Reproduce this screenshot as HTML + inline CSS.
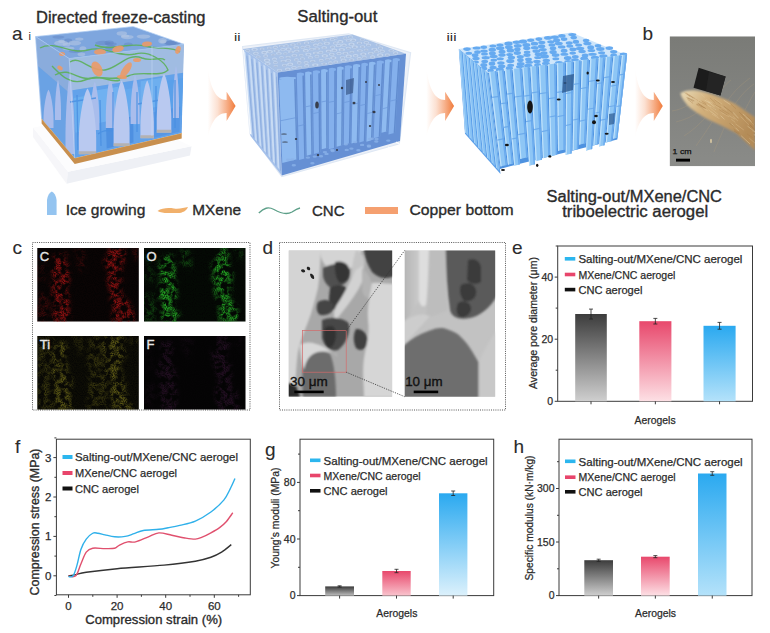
<!DOCTYPE html><html><head><meta charset="utf-8"><style>
html,body{margin:0;padding:0;background:#fff;width:770px;height:633px;overflow:hidden}
svg{display:block}
text{font-family:"Liberation Sans",sans-serif}
</style></head><body>
<svg width="770" height="633" viewBox="0 0 770 633">
<defs>
<linearGradient id="arrowG" x1="0" y1="0" x2="1" y2="0">
 <stop offset="0" stop-color="#f3854a" stop-opacity="0"/>
 <stop offset="0.35" stop-color="#f3854a" stop-opacity="0.25"/>
 <stop offset="1" stop-color="#f07a3a" stop-opacity="1"/>
</linearGradient>
<linearGradient id="barK" x1="0" y1="0" x2="0" y2="1"><stop offset="0" stop-color="#3c3c3c"/><stop offset="1" stop-color="#cfcfcf"/></linearGradient>
<linearGradient id="barR" x1="0" y1="0" x2="0" y2="1"><stop offset="0" stop-color="#e8486c"/><stop offset="1" stop-color="#fde0e5"/></linearGradient>
<linearGradient id="barB" x1="0" y1="0" x2="0" y2="1"><stop offset="0" stop-color="#2aa9f0"/><stop offset="1" stop-color="#b4e2fa"/></linearGradient>
<linearGradient id="barKg" x1="0" y1="0" x2="0" y2="1"><stop offset="0" stop-color="#3a3a3a"/><stop offset="1" stop-color="#bdbdbd"/></linearGradient>
<linearGradient id="barRg" x1="0" y1="0" x2="0" y2="1"><stop offset="0" stop-color="#e8486c"/><stop offset="1" stop-color="#f9c3cd"/></linearGradient>
<linearGradient id="barBg" x1="0" y1="0" x2="0" y2="1"><stop offset="0" stop-color="#2aa9f0"/><stop offset="1" stop-color="#dcf1fc"/></linearGradient>
<filter id="speck" x="0" y="0" width="1" height="1">
 <feTurbulence type="fractalNoise" baseFrequency="0.9" numOctaves="1" seed="3" result="n"/>
 <feColorMatrix in="n" type="matrix" values="0 0 0 0 0  0 0 0 0 0  0 0 0 0 0  0 0 0 2.2 -0.9" result="m"/>
 <feComposite in="SourceGraphic" in2="m" operator="in"/>
</filter>
<filter id="blur1"><feGaussianBlur stdDeviation="1"/></filter>
<filter id="blur2"><feGaussianBlur stdDeviation="2"/></filter>
<filter id="blur3"><feGaussianBlur stdDeviation="3"/></filter>
</defs>
<rect width="770" height="633" fill="#ffffff"/>
<text x="12" y="39.5" font-size="19" text-anchor="start" fill="#2b2b2b" stroke="#2b2b2b" stroke-width="0.1" >a</text>
<text x="28.5" y="40" font-size="11" text-anchor="start" fill="#2b2b2b" stroke="#2b2b2b"  stroke-width="0">i</text>
<text x="36" y="23" font-size="16" text-anchor="start" fill="#2b2b2b" stroke="#2b2b2b" stroke-width="0.35" textLength="169.5" lengthAdjust="spacingAndGlyphs" >Directed freeze-casting</text>
<text x="297.3" y="22.2" font-size="16.3" text-anchor="start" fill="#2b2b2b" stroke="#2b2b2b" stroke-width="0.35" textLength="80" lengthAdjust="spacingAndGlyphs" >Salting-out</text>
<text x="234" y="40.5" font-size="11" text-anchor="start" fill="#2b2b2b" stroke="#2b2b2b" stroke-width="0" textLength="6.5" lengthAdjust="spacingAndGlyphs" >ii</text>
<text x="446.5" y="40.5" font-size="11" text-anchor="start" fill="#2b2b2b" stroke="#2b2b2b" stroke-width="0" textLength="10" lengthAdjust="spacingAndGlyphs" >iii</text>
<text x="642.5" y="40" font-size="19" text-anchor="start" fill="#2b2b2b" stroke="#2b2b2b" stroke-width="0.1" >b</text>
<path d="M207.8,69.3 C210.8,88 215.8,100 226.60000000000002,100 L226.60000000000002,91.8 L235.60000000000002,106 L226.60000000000002,121 L226.60000000000002,112.9 C215.8,112.9 210.8,124 207.8,137 Z" fill="url(#arrowG)"/>
<path d="M426.3,69.3 C429.3,88 434.3,100 445.1,100 L445.1,91.8 L454.1,106 L445.1,121 L445.1,112.9 C434.3,112.9 429.3,124 426.3,137 Z" fill="url(#arrowG)"/>
<path d="M635,69.3 C638,88 643,100 653.8,100 L653.8,91.8 L662.8,106 L653.8,121 L653.8,112.9 C643,112.9 638,124 635,137 Z" fill="url(#arrowG)"/>
<path d="M33,127.4 L68,171.7 L66.6,183.8 L33,137 Z" fill="#f6f6f9"/>
<path d="M68,171.7 L191.5,146.2 L190,155.6 L66.6,183.8 Z" fill="#eef0f5"/>
<path d="M33,127.4 L120,114 L191.5,146.2 L68,171.7 Z" fill="#fcfcfd"/>
<path d="M41.6,118.5 L74.7,158 L181.7,133 L181.7,138.5 L74.7,164 L41.6,123.5 Z" fill="#c88f4e"/>
<path d="M41.6,118.5 L74.7,158 L181.7,133" fill="none" stroke="#e0ae70" stroke-width="0.8"/>
<clipPath id="cubeI"><path d="M35.6,36.6 L133.2,26.6 L184,44.3 L181.7,133 L74.7,158 L41.6,118.5 Z"/></clipPath>
<g clip-path="url(#cubeI)">
<path d="M35.6,36.6 L69.2,58.6 L74.7,158.0 L41.6,118.5 Z" fill="#7ea6dc"/>
<path d="M69.2,58.6 L184.0,44.3 L181.7,133.0 L74.7,158.0 Z" fill="#8cb0e0"/>
<path d="M69.2,58.6 L184.0,44.3 L183.3,72.7 L71.0,90.4 Z" fill="#a0bce2"/>
<path d="M35.6,36.6 L69.2,58.6 L71.2,94.4 L37.8,66.1 Z" fill="#8aacdc"/>
<path d="M35.6,36.6 L133.2,26.6 L184.0,44.3 L69.2,58.6 Z" fill="#7ea6de"/>
<ellipse cx="102.9" cy="43.0" rx="7.7" ry="2.2" fill="#5f82c0" opacity="0.45"/>
<ellipse cx="109.2" cy="42.8" rx="4.7" ry="2.3" fill="#5f82c0" opacity="0.45"/>
<ellipse cx="128.3" cy="44.6" rx="4.4" ry="2.0" fill="#5f82c0" opacity="0.45"/>
<ellipse cx="75.3" cy="51.3" rx="6.8" ry="1.6" fill="#5f82c0" opacity="0.45"/>
<ellipse cx="170.1" cy="42.9" rx="6.6" ry="2.4" fill="#5f82c0" opacity="0.45"/>
<ellipse cx="58.4" cy="37.1" rx="6.1" ry="1.6" fill="#5f82c0" opacity="0.45"/>
<ellipse cx="68.2" cy="40.6" rx="4.1" ry="2.2" fill="#5f82c0" opacity="0.45"/>
<ellipse cx="111.1" cy="47.7" rx="6.1" ry="2.5" fill="#5f82c0" opacity="0.45"/>
<ellipse cx="111.0" cy="44.1" rx="5.8" ry="1.9" fill="#5f82c0" opacity="0.45"/>
<ellipse cx="172.9" cy="43.2" rx="7.4" ry="2.6" fill="#5f82c0" opacity="0.45"/>
<ellipse cx="79.3" cy="39.1" rx="4.2" ry="1.6" fill="#b4c6e2" opacity="0.6"/>
<ellipse cx="127.3" cy="37.1" rx="6.4" ry="2.1" fill="#b4c6e2" opacity="0.6"/>
<ellipse cx="163.0" cy="41.5" rx="3.0" ry="1.8" fill="#b4c6e2" opacity="0.6"/>
<ellipse cx="143.5" cy="36.6" rx="6.9" ry="2.1" fill="#b4c6e2" opacity="0.6"/>
<ellipse cx="68.4" cy="48.4" rx="6.1" ry="1.9" fill="#b4c6e2" opacity="0.6"/>
<ellipse cx="61.2" cy="43.2" rx="6.9" ry="2.6" fill="#b4c6e2" opacity="0.6"/>
<ellipse cx="61.6" cy="41.4" rx="3.4" ry="1.6" fill="#b4c6e2" opacity="0.6"/>
<ellipse cx="121.8" cy="33.5" rx="5.2" ry="2.2" fill="#b4c6e2" opacity="0.6"/>
<ellipse cx="82.9" cy="48.8" rx="3.5" ry="2.5" fill="#b4c6e2" opacity="0.6"/>
<ellipse cx="66.5" cy="44.4" rx="3.9" ry="1.9" fill="#b4c6e2" opacity="0.6"/>
<ellipse cx="162.5" cy="40.8" rx="4.2" ry="2.8" fill="#b4c6e2" opacity="0.6"/>
<ellipse cx="74.7" cy="42.9" rx="6.4" ry="2.5" fill="#b4c6e2" opacity="0.6"/>
<ellipse cx="81.4" cy="54.3" rx="3.9" ry="1.9" fill="#b4c6e2" opacity="0.6"/>
<ellipse cx="125.2" cy="36.0" rx="4.2" ry="1.6" fill="#b4c6e2" opacity="0.6"/>
<path d="M71.0,90.4 L183.3,72.7 L181.7,133.0 L74.7,158.0 Z" fill="#62a2ea"/>
<path d="M37.8,66.1 L71.2,94.4 L74.7,158.0 L41.6,118.5 Z" fill="#6aa2e4"/>
<path d="M73.6,98.0 L93.7,94.6 L95.1,128.7 L75.5,132.7 Z" fill="#6cb0f0" opacity="0.9"/>
<path d="M93.6,90.8 L118.2,86.8 L119.0,119.0 L94.9,123.8 Z" fill="#72b2f2" opacity="0.9"/>
<path d="M120.5,90.2 L140.6,86.8 L140.9,123.9 L121.4,128.1 Z" fill="#66aaee" opacity="0.9"/>
<path d="M140.6,81.3 L166.4,77.1 L166.0,105.1 L140.8,110.0 Z" fill="#70b0f0" opacity="0.9"/>
<path d="M166.4,80.8 L183.1,78.0 L182.2,115.3 L165.9,118.7 Z" fill="#5aa0ea" opacity="0.9"/>
<path d="M105.9,121.6 L133.2,116.2 L133.5,142.4 L106.7,148.6 Z" fill="#4c8ee0" opacity="0.9"/>
<path d="M149.6,112.9 L180.2,106.8 L179.6,131.7 L149.6,138.7 Z" fill="#5596e4" opacity="0.9"/>
<path d="M90.3,130.0 L90.3,119.4 C90.3,103.5 93.0,84.7 94.8,81.8 C96.6,84.7 99.3,103.5 99.3,119.4 L99.3,130.0 Z" fill="#a9bdec"/>
<path d="M105.8,128.0 L105.8,116.9 C105.8,100.3 108.5,80.7 110.3,77.7 C112.1,80.7 114.8,100.3 114.8,116.9 L114.8,128.0 Z" fill="#a9bdec"/>
<path d="M130.6,124.0 L130.6,113.2 C130.6,97.0 133.3,77.9 135.1,75.0 C136.9,77.9 139.6,97.0 139.6,113.2 L139.6,124.0 Z" fill="#a9bdec"/>
<path d="M173.0,118.0 L173.0,106.6 C173.0,89.4 174.8,69.1 176.0,66.0 C177.2,69.1 179.0,89.4 179.0,106.6 L179.0,118.0 Z" fill="#a9bdec"/>
<path d="M65.5,154.0 L65.5,136.3 C65.5,109.8 68.2,78.5 70.0,73.7 C71.8,78.5 74.5,109.8 74.5,136.3 L74.5,154.0 Z" fill="#a9bdec"/>
<path d="M43.5,128.0 L43.5,119.6 C43.5,107.0 46.5,92.1 48.5,89.8 C50.5,92.1 53.5,107.0 53.5,119.6 L53.5,128.0 Z" fill="#a9bdec"/>
<path d="M55.0,120.0 L55.0,111.2 C55.0,98.0 56.8,82.4 58.0,80.0 C59.2,82.4 61.0,98.0 61.0,111.2 L61.0,120.0 Z" fill="#a9bdec"/>
<g stroke="#4a90e2" stroke-width="1.3" fill="none" opacity="0.85"><path d="M77,95 L78,150 M100,100 L101,146 M113,92 L113,140 M137,92 L137,132 M156,86 L156,132 M175,80 L175,128"/><path d="M98,134 C105,128 112,132 122,130 M70,102 L96,98 M138,104 L160,100"/></g>
<path d="M78.8,154.3 L78.8,139.8 C78.8,118.1 84.0,92.4 87.5,88.5 C91.0,92.4 96.2,118.1 96.2,139.8 L96.2,154.3 Z" fill="#b9c9f0"/>
<path d="M78.8,151.3 L96.2,151.3 L96.2,154.3 L78.8,154.3 Z" fill="#b0a898" opacity="0.7"/>
<path d="M113.6,146.2 L113.6,131.7 C113.6,110.0 118.4,84.3 121.6,80.4 C124.8,84.3 129.6,110.0 129.6,131.7 L129.6,146.2 Z" fill="#b9c9f0"/>
<path d="M113.6,143.2 L129.6,143.2 L129.6,146.2 L113.6,146.2 Z" fill="#b0a898" opacity="0.7"/>
<path d="M140.4,138.2 L140.4,125.5 C140.4,106.4 144.5,83.9 147.2,80.4 C149.9,83.9 153.9,106.4 153.9,125.5 L153.9,138.2 Z" fill="#b9c9f0"/>
<path d="M140.4,135.2 L153.9,135.2 L153.9,138.2 L140.4,138.2 Z" fill="#b0a898" opacity="0.7"/>
<path d="M156.7,132.8 L156.7,119.8 C156.7,100.3 161.1,77.2 164.0,73.7 C166.9,77.2 171.3,100.3 171.3,119.8 L171.3,132.8 Z" fill="#b9c9f0"/>
<path d="M156.7,129.8 L171.3,129.8 L171.3,132.8 L156.7,132.8 Z" fill="#b0a898" opacity="0.7"/>
<g stroke="#5cb05a" stroke-width="1.4" fill="none" opacity="0.9"><path d="M40,48 C55,40 70,55 88,50 C105,45 118,58 135,54 C150,50 165,62 168,70 C160,78 140,70 128,76 C112,82 100,74 85,80 C70,86 60,74 52,66"/><path d="M70,62 C80,55 90,72 105,70 C118,68 128,52 142,58 C152,62 160,56 165,60"/><path d="M55,75 C70,66 78,82 92,78 C102,74 110,84 120,80"/><path d="M95,45 C110,52 128,42 145,46 C160,50 172,46 180,52"/></g>
<ellipse cx="97" cy="69" rx="5" ry="8" transform="rotate(-25 97 69)" fill="#eb9a68" opacity="0.9"/>
<ellipse cx="126" cy="70" rx="3.5" ry="9" transform="rotate(35 126 70)" fill="#eb9a68" opacity="0.9"/>
<ellipse cx="118" cy="49" rx="6" ry="3.2" transform="rotate(-15 118 49)" fill="#eb9a68" opacity="0.9"/>
<ellipse cx="100" cy="52" rx="6" ry="3" transform="rotate(0 100 52)" fill="#eb9a68" opacity="0.9"/>
<ellipse cx="147" cy="44" rx="5" ry="2.5" transform="rotate(-5 147 44)" fill="#eb9a68" opacity="0.9"/>
<ellipse cx="62" cy="54" rx="3" ry="2" transform="rotate(0 62 54)" fill="#eb9a68" opacity="0.9"/>
<ellipse cx="122" cy="77" rx="5" ry="2" transform="rotate(5 122 77)" fill="#eb9a68" opacity="0.9"/>
<ellipse cx="178" cy="50" rx="2.5" ry="4" transform="rotate(20 178 50)" fill="#eb9a68" opacity="0.9"/>
<ellipse cx="137" cy="60" rx="4" ry="2" transform="rotate(0 137 60)" fill="#eb9a68" opacity="0.9"/>
<ellipse cx="60" cy="68" rx="3" ry="2" transform="rotate(30 60 68)" fill="#eb9a68" opacity="0.9"/>
</g>
<path d="M35.6,36.6 L133.2,26.6 L184.0,44.3 L69.2,58.6 Z" fill="none" stroke="#a8c8f0" stroke-width="0.8"/>
<path d="M69.2,58.6 L74.7,158 M152,46 L152,136" stroke="#c8dcf6" stroke-width="0.7" opacity="0.7"/>
<path d="M35.6,36.6 L41.6,118.5" stroke="#a0c0ec" stroke-width="0.8"/>
<path d="M242.6,46.5 L348.7,33.8 L410.6,52.8 L399.3,143.8 L281.8,176.6 L250,133.7 Z" fill="#edf1f8"/>
<path d="M242.6,46.5 L348.7,33.8 L410.6,52.8 L399.3,143.8 L281.8,176.6 L250,133.7 Z" fill="none" stroke="#dfe8f4" stroke-width="1.2"/>
<path d="M243.0,49.0 L352.5,34.5 L406.0,53.7 L277.7,72.4 Z" fill="#a9c2e6"/>
<path d="M243.0,49.0 L277.7,72.4 L281.8,175.4 L250.5,136.0 Z" fill="#a4c0ea"/>
<path d="M277.7,72.4 L406.0,53.7 L400.0,141.0 L281.8,175.4 Z" fill="#6690d4"/>
<ellipse cx="247.7" cy="50.5" rx="2.4" ry="1.5" fill="#c6d8f0" opacity="0.9"/>
<ellipse cx="247.7" cy="50.7" rx="1.8" ry="0.9" fill="#a6bada" opacity="0.8"/>
<ellipse cx="254.6" cy="49.4" rx="3.2" ry="1.4" fill="#c6d8f0" opacity="0.9"/>
<ellipse cx="254.6" cy="49.6" rx="1.8" ry="0.9" fill="#a6bada" opacity="0.8"/>
<ellipse cx="262.1" cy="48.9" rx="2.4" ry="1.2" fill="#c6d8f0" opacity="0.9"/>
<ellipse cx="262.1" cy="49.1" rx="1.8" ry="0.9" fill="#a6bada" opacity="0.8"/>
<ellipse cx="269.2" cy="47.9" rx="2.4" ry="1.2" fill="#c6d8f0" opacity="0.9"/>
<ellipse cx="269.2" cy="48.1" rx="1.8" ry="0.9" fill="#a6bada" opacity="0.8"/>
<ellipse cx="275.3" cy="47.2" rx="2.4" ry="1.7" fill="#c6d8f0" opacity="0.9"/>
<ellipse cx="275.3" cy="47.4" rx="1.8" ry="0.9" fill="#a6bada" opacity="0.8"/>
<ellipse cx="281.5" cy="46.0" rx="2.6" ry="1.2" fill="#c6d8f0" opacity="0.9"/>
<ellipse cx="281.5" cy="46.2" rx="1.8" ry="0.9" fill="#a6bada" opacity="0.8"/>
<ellipse cx="286.3" cy="45.8" rx="2.4" ry="1.5" fill="#c6d8f0" opacity="0.9"/>
<ellipse cx="286.3" cy="46.0" rx="1.8" ry="0.9" fill="#a6bada" opacity="0.8"/>
<ellipse cx="293.0" cy="44.7" rx="2.8" ry="1.3" fill="#c6d8f0" opacity="0.9"/>
<ellipse cx="293.0" cy="44.9" rx="1.8" ry="0.9" fill="#a6bada" opacity="0.8"/>
<ellipse cx="298.9" cy="43.8" rx="2.3" ry="1.2" fill="#c6d8f0" opacity="0.9"/>
<ellipse cx="298.9" cy="44.0" rx="1.8" ry="0.9" fill="#a6bada" opacity="0.8"/>
<ellipse cx="306.5" cy="42.9" rx="2.8" ry="1.3" fill="#c6d8f0" opacity="0.9"/>
<ellipse cx="306.5" cy="43.1" rx="1.8" ry="0.9" fill="#a6bada" opacity="0.8"/>
<ellipse cx="312.5" cy="41.4" rx="2.2" ry="1.3" fill="#c6d8f0" opacity="0.9"/>
<ellipse cx="312.5" cy="41.6" rx="1.8" ry="0.9" fill="#a6bada" opacity="0.8"/>
<ellipse cx="317.3" cy="40.6" rx="2.4" ry="1.3" fill="#c6d8f0" opacity="0.9"/>
<ellipse cx="317.3" cy="40.8" rx="1.8" ry="0.9" fill="#a6bada" opacity="0.8"/>
<ellipse cx="324.1" cy="39.8" rx="2.6" ry="1.6" fill="#c6d8f0" opacity="0.9"/>
<ellipse cx="324.1" cy="40.0" rx="1.8" ry="0.9" fill="#a6bada" opacity="0.8"/>
<ellipse cx="332.5" cy="39.2" rx="2.9" ry="1.5" fill="#c6d8f0" opacity="0.9"/>
<ellipse cx="332.5" cy="39.4" rx="1.8" ry="0.9" fill="#a6bada" opacity="0.8"/>
<ellipse cx="335.4" cy="38.1" rx="2.2" ry="1.6" fill="#c6d8f0" opacity="0.9"/>
<ellipse cx="335.4" cy="38.3" rx="1.8" ry="0.9" fill="#a6bada" opacity="0.8"/>
<ellipse cx="345.2" cy="37.9" rx="2.2" ry="1.5" fill="#c6d8f0" opacity="0.9"/>
<ellipse cx="345.2" cy="38.1" rx="1.8" ry="0.9" fill="#a6bada" opacity="0.8"/>
<ellipse cx="350.5" cy="36.9" rx="2.5" ry="1.7" fill="#c6d8f0" opacity="0.9"/>
<ellipse cx="350.5" cy="37.1" rx="1.8" ry="0.9" fill="#a6bada" opacity="0.8"/>
<ellipse cx="255.9" cy="53.3" rx="2.9" ry="1.6" fill="#c6d8f0" opacity="0.9"/>
<ellipse cx="255.9" cy="53.5" rx="1.8" ry="0.9" fill="#a6bada" opacity="0.8"/>
<ellipse cx="264.3" cy="52.4" rx="3.0" ry="1.6" fill="#c6d8f0" opacity="0.9"/>
<ellipse cx="264.3" cy="52.6" rx="1.8" ry="0.9" fill="#a6bada" opacity="0.8"/>
<ellipse cx="269.8" cy="51.6" rx="3.1" ry="1.6" fill="#c6d8f0" opacity="0.9"/>
<ellipse cx="269.8" cy="51.8" rx="1.8" ry="0.9" fill="#a6bada" opacity="0.8"/>
<ellipse cx="276.7" cy="50.8" rx="3.1" ry="1.4" fill="#c6d8f0" opacity="0.9"/>
<ellipse cx="276.7" cy="51.0" rx="1.8" ry="0.9" fill="#a6bada" opacity="0.8"/>
<ellipse cx="283.0" cy="49.5" rx="2.8" ry="1.5" fill="#c6d8f0" opacity="0.9"/>
<ellipse cx="283.0" cy="49.7" rx="1.8" ry="0.9" fill="#a6bada" opacity="0.8"/>
<ellipse cx="288.5" cy="49.0" rx="3.2" ry="1.6" fill="#c6d8f0" opacity="0.9"/>
<ellipse cx="288.5" cy="49.2" rx="1.8" ry="0.9" fill="#a6bada" opacity="0.8"/>
<ellipse cx="296.2" cy="47.7" rx="2.9" ry="1.4" fill="#c6d8f0" opacity="0.9"/>
<ellipse cx="296.2" cy="47.9" rx="1.8" ry="0.9" fill="#a6bada" opacity="0.8"/>
<ellipse cx="302.8" cy="47.3" rx="2.3" ry="1.6" fill="#c6d8f0" opacity="0.9"/>
<ellipse cx="302.8" cy="47.5" rx="1.8" ry="0.9" fill="#a6bada" opacity="0.8"/>
<ellipse cx="307.8" cy="46.4" rx="2.7" ry="1.2" fill="#c6d8f0" opacity="0.9"/>
<ellipse cx="307.8" cy="46.6" rx="1.8" ry="0.9" fill="#a6bada" opacity="0.8"/>
<ellipse cx="315.8" cy="45.1" rx="2.8" ry="1.7" fill="#c6d8f0" opacity="0.9"/>
<ellipse cx="315.8" cy="45.3" rx="1.8" ry="0.9" fill="#a6bada" opacity="0.8"/>
<ellipse cx="320.2" cy="44.0" rx="2.5" ry="1.5" fill="#c6d8f0" opacity="0.9"/>
<ellipse cx="320.2" cy="44.2" rx="1.8" ry="0.9" fill="#a6bada" opacity="0.8"/>
<ellipse cx="326.8" cy="43.3" rx="3.1" ry="1.5" fill="#c6d8f0" opacity="0.9"/>
<ellipse cx="326.8" cy="43.5" rx="1.8" ry="0.9" fill="#a6bada" opacity="0.8"/>
<ellipse cx="335.4" cy="42.9" rx="2.5" ry="1.5" fill="#c6d8f0" opacity="0.9"/>
<ellipse cx="335.4" cy="43.1" rx="1.8" ry="0.9" fill="#a6bada" opacity="0.8"/>
<ellipse cx="340.3" cy="41.7" rx="3.0" ry="1.6" fill="#c6d8f0" opacity="0.9"/>
<ellipse cx="340.3" cy="41.9" rx="1.8" ry="0.9" fill="#a6bada" opacity="0.8"/>
<ellipse cx="348.5" cy="40.6" rx="2.8" ry="1.3" fill="#c6d8f0" opacity="0.9"/>
<ellipse cx="348.5" cy="40.8" rx="1.8" ry="0.9" fill="#a6bada" opacity="0.8"/>
<ellipse cx="353.3" cy="40.1" rx="3.0" ry="1.6" fill="#c6d8f0" opacity="0.9"/>
<ellipse cx="353.3" cy="40.3" rx="1.8" ry="0.9" fill="#a6bada" opacity="0.8"/>
<ellipse cx="362.3" cy="39.4" rx="2.5" ry="1.2" fill="#c6d8f0" opacity="0.9"/>
<ellipse cx="362.3" cy="39.6" rx="1.8" ry="0.9" fill="#a6bada" opacity="0.8"/>
<ellipse cx="258.2" cy="56.7" rx="2.4" ry="1.3" fill="#c6d8f0" opacity="0.9"/>
<ellipse cx="258.2" cy="56.9" rx="1.8" ry="0.9" fill="#a6bada" opacity="0.8"/>
<ellipse cx="265.7" cy="55.9" rx="2.5" ry="1.6" fill="#c6d8f0" opacity="0.9"/>
<ellipse cx="265.7" cy="56.1" rx="1.8" ry="0.9" fill="#a6bada" opacity="0.8"/>
<ellipse cx="273.2" cy="54.8" rx="2.3" ry="1.1" fill="#c6d8f0" opacity="0.9"/>
<ellipse cx="273.2" cy="55.0" rx="1.8" ry="0.9" fill="#a6bada" opacity="0.8"/>
<ellipse cx="278.9" cy="53.6" rx="2.9" ry="1.4" fill="#c6d8f0" opacity="0.9"/>
<ellipse cx="278.9" cy="53.8" rx="1.8" ry="0.9" fill="#a6bada" opacity="0.8"/>
<ellipse cx="285.3" cy="53.6" rx="2.2" ry="1.2" fill="#c6d8f0" opacity="0.9"/>
<ellipse cx="285.3" cy="53.8" rx="1.8" ry="0.9" fill="#a6bada" opacity="0.8"/>
<ellipse cx="291.0" cy="51.9" rx="3.0" ry="1.2" fill="#c6d8f0" opacity="0.9"/>
<ellipse cx="291.0" cy="52.1" rx="1.8" ry="0.9" fill="#a6bada" opacity="0.8"/>
<ellipse cx="296.8" cy="51.1" rx="2.8" ry="1.4" fill="#c6d8f0" opacity="0.9"/>
<ellipse cx="296.8" cy="51.3" rx="1.8" ry="0.9" fill="#a6bada" opacity="0.8"/>
<ellipse cx="305.8" cy="50.6" rx="3.0" ry="1.7" fill="#c6d8f0" opacity="0.9"/>
<ellipse cx="305.8" cy="50.8" rx="1.8" ry="0.9" fill="#a6bada" opacity="0.8"/>
<ellipse cx="311.8" cy="49.2" rx="2.7" ry="1.2" fill="#c6d8f0" opacity="0.9"/>
<ellipse cx="311.8" cy="49.4" rx="1.8" ry="0.9" fill="#a6bada" opacity="0.8"/>
<ellipse cx="317.1" cy="48.8" rx="2.9" ry="1.2" fill="#c6d8f0" opacity="0.9"/>
<ellipse cx="317.1" cy="49.0" rx="1.8" ry="0.9" fill="#a6bada" opacity="0.8"/>
<ellipse cx="324.2" cy="47.7" rx="2.9" ry="1.4" fill="#c6d8f0" opacity="0.9"/>
<ellipse cx="324.2" cy="47.9" rx="1.8" ry="0.9" fill="#a6bada" opacity="0.8"/>
<ellipse cx="332.6" cy="47.0" rx="2.6" ry="1.6" fill="#c6d8f0" opacity="0.9"/>
<ellipse cx="332.6" cy="47.2" rx="1.8" ry="0.9" fill="#a6bada" opacity="0.8"/>
<ellipse cx="338.6" cy="45.4" rx="3.1" ry="1.5" fill="#c6d8f0" opacity="0.9"/>
<ellipse cx="338.6" cy="45.6" rx="1.8" ry="0.9" fill="#a6bada" opacity="0.8"/>
<ellipse cx="344.0" cy="45.1" rx="2.8" ry="1.6" fill="#c6d8f0" opacity="0.9"/>
<ellipse cx="344.0" cy="45.3" rx="1.8" ry="0.9" fill="#a6bada" opacity="0.8"/>
<ellipse cx="351.5" cy="44.2" rx="3.1" ry="1.6" fill="#c6d8f0" opacity="0.9"/>
<ellipse cx="351.5" cy="44.4" rx="1.8" ry="0.9" fill="#a6bada" opacity="0.8"/>
<ellipse cx="359.4" cy="43.0" rx="2.9" ry="1.2" fill="#c6d8f0" opacity="0.9"/>
<ellipse cx="359.4" cy="43.2" rx="1.8" ry="0.9" fill="#a6bada" opacity="0.8"/>
<ellipse cx="366.3" cy="42.5" rx="2.8" ry="1.5" fill="#c6d8f0" opacity="0.9"/>
<ellipse cx="366.3" cy="42.7" rx="1.8" ry="0.9" fill="#a6bada" opacity="0.8"/>
<ellipse cx="267.0" cy="60.3" rx="3.2" ry="1.7" fill="#c6d8f0" opacity="0.9"/>
<ellipse cx="267.0" cy="60.5" rx="1.8" ry="0.9" fill="#a6bada" opacity="0.8"/>
<ellipse cx="274.5" cy="59.1" rx="2.5" ry="1.6" fill="#c6d8f0" opacity="0.9"/>
<ellipse cx="274.5" cy="59.3" rx="1.8" ry="0.9" fill="#a6bada" opacity="0.8"/>
<ellipse cx="281.5" cy="57.6" rx="2.3" ry="1.4" fill="#c6d8f0" opacity="0.9"/>
<ellipse cx="281.5" cy="57.8" rx="1.8" ry="0.9" fill="#a6bada" opacity="0.8"/>
<ellipse cx="288.1" cy="57.1" rx="2.7" ry="1.1" fill="#c6d8f0" opacity="0.9"/>
<ellipse cx="288.1" cy="57.3" rx="1.8" ry="0.9" fill="#a6bada" opacity="0.8"/>
<ellipse cx="294.4" cy="55.4" rx="3.0" ry="1.2" fill="#c6d8f0" opacity="0.9"/>
<ellipse cx="294.4" cy="55.6" rx="1.8" ry="0.9" fill="#a6bada" opacity="0.8"/>
<ellipse cx="301.2" cy="55.3" rx="2.3" ry="1.2" fill="#c6d8f0" opacity="0.9"/>
<ellipse cx="301.2" cy="55.5" rx="1.8" ry="0.9" fill="#a6bada" opacity="0.8"/>
<ellipse cx="308.4" cy="54.3" rx="3.0" ry="1.5" fill="#c6d8f0" opacity="0.9"/>
<ellipse cx="308.4" cy="54.5" rx="1.8" ry="0.9" fill="#a6bada" opacity="0.8"/>
<ellipse cx="315.9" cy="52.9" rx="3.1" ry="1.2" fill="#c6d8f0" opacity="0.9"/>
<ellipse cx="315.9" cy="53.1" rx="1.8" ry="0.9" fill="#a6bada" opacity="0.8"/>
<ellipse cx="320.8" cy="52.3" rx="2.5" ry="1.5" fill="#c6d8f0" opacity="0.9"/>
<ellipse cx="320.8" cy="52.5" rx="1.8" ry="0.9" fill="#a6bada" opacity="0.8"/>
<ellipse cx="328.7" cy="51.2" rx="3.0" ry="1.4" fill="#c6d8f0" opacity="0.9"/>
<ellipse cx="328.7" cy="51.4" rx="1.8" ry="0.9" fill="#a6bada" opacity="0.8"/>
<ellipse cx="334.3" cy="50.2" rx="3.0" ry="1.6" fill="#c6d8f0" opacity="0.9"/>
<ellipse cx="334.3" cy="50.4" rx="1.8" ry="0.9" fill="#a6bada" opacity="0.8"/>
<ellipse cx="341.8" cy="49.7" rx="3.2" ry="1.4" fill="#c6d8f0" opacity="0.9"/>
<ellipse cx="341.8" cy="49.9" rx="1.8" ry="0.9" fill="#a6bada" opacity="0.8"/>
<ellipse cx="348.2" cy="48.1" rx="2.7" ry="1.4" fill="#c6d8f0" opacity="0.9"/>
<ellipse cx="348.2" cy="48.3" rx="1.8" ry="0.9" fill="#a6bada" opacity="0.8"/>
<ellipse cx="354.7" cy="47.0" rx="3.2" ry="1.4" fill="#c6d8f0" opacity="0.9"/>
<ellipse cx="354.7" cy="47.2" rx="1.8" ry="0.9" fill="#a6bada" opacity="0.8"/>
<ellipse cx="362.6" cy="46.8" rx="2.8" ry="1.4" fill="#c6d8f0" opacity="0.9"/>
<ellipse cx="362.6" cy="47.0" rx="1.8" ry="0.9" fill="#a6bada" opacity="0.8"/>
<ellipse cx="368.6" cy="45.1" rx="2.7" ry="1.3" fill="#c6d8f0" opacity="0.9"/>
<ellipse cx="368.6" cy="45.3" rx="1.8" ry="0.9" fill="#a6bada" opacity="0.8"/>
<ellipse cx="378.1" cy="44.8" rx="2.5" ry="1.4" fill="#c6d8f0" opacity="0.9"/>
<ellipse cx="378.1" cy="45.0" rx="1.8" ry="0.9" fill="#a6bada" opacity="0.8"/>
<ellipse cx="267.6" cy="63.6" rx="3.0" ry="1.6" fill="#c6d8f0" opacity="0.9"/>
<ellipse cx="267.6" cy="63.8" rx="1.8" ry="0.9" fill="#a6bada" opacity="0.8"/>
<ellipse cx="275.4" cy="62.4" rx="2.4" ry="1.5" fill="#c6d8f0" opacity="0.9"/>
<ellipse cx="275.4" cy="62.6" rx="1.8" ry="0.9" fill="#a6bada" opacity="0.8"/>
<ellipse cx="283.3" cy="61.1" rx="3.0" ry="1.1" fill="#c6d8f0" opacity="0.9"/>
<ellipse cx="283.3" cy="61.3" rx="1.8" ry="0.9" fill="#a6bada" opacity="0.8"/>
<ellipse cx="288.3" cy="60.5" rx="2.9" ry="1.3" fill="#c6d8f0" opacity="0.9"/>
<ellipse cx="288.3" cy="60.7" rx="1.8" ry="0.9" fill="#a6bada" opacity="0.8"/>
<ellipse cx="296.4" cy="59.8" rx="2.3" ry="1.5" fill="#c6d8f0" opacity="0.9"/>
<ellipse cx="296.4" cy="60.0" rx="1.8" ry="0.9" fill="#a6bada" opacity="0.8"/>
<ellipse cx="302.5" cy="58.8" rx="2.5" ry="1.2" fill="#c6d8f0" opacity="0.9"/>
<ellipse cx="302.5" cy="59.0" rx="1.8" ry="0.9" fill="#a6bada" opacity="0.8"/>
<ellipse cx="310.4" cy="57.6" rx="2.6" ry="1.3" fill="#c6d8f0" opacity="0.9"/>
<ellipse cx="310.4" cy="57.8" rx="1.8" ry="0.9" fill="#a6bada" opacity="0.8"/>
<ellipse cx="316.9" cy="56.3" rx="2.4" ry="1.5" fill="#c6d8f0" opacity="0.9"/>
<ellipse cx="316.9" cy="56.5" rx="1.8" ry="0.9" fill="#a6bada" opacity="0.8"/>
<ellipse cx="324.8" cy="55.7" rx="3.1" ry="1.5" fill="#c6d8f0" opacity="0.9"/>
<ellipse cx="324.8" cy="55.9" rx="1.8" ry="0.9" fill="#a6bada" opacity="0.8"/>
<ellipse cx="331.8" cy="54.3" rx="2.9" ry="1.6" fill="#c6d8f0" opacity="0.9"/>
<ellipse cx="331.8" cy="54.5" rx="1.8" ry="0.9" fill="#a6bada" opacity="0.8"/>
<ellipse cx="339.0" cy="53.4" rx="2.5" ry="1.7" fill="#c6d8f0" opacity="0.9"/>
<ellipse cx="339.0" cy="53.6" rx="1.8" ry="0.9" fill="#a6bada" opacity="0.8"/>
<ellipse cx="345.4" cy="53.3" rx="3.1" ry="1.2" fill="#c6d8f0" opacity="0.9"/>
<ellipse cx="345.4" cy="53.5" rx="1.8" ry="0.9" fill="#a6bada" opacity="0.8"/>
<ellipse cx="351.9" cy="52.1" rx="2.5" ry="1.2" fill="#c6d8f0" opacity="0.9"/>
<ellipse cx="351.9" cy="52.3" rx="1.8" ry="0.9" fill="#a6bada" opacity="0.8"/>
<ellipse cx="359.9" cy="50.6" rx="3.0" ry="1.2" fill="#c6d8f0" opacity="0.9"/>
<ellipse cx="359.9" cy="50.8" rx="1.8" ry="0.9" fill="#a6bada" opacity="0.8"/>
<ellipse cx="366.2" cy="50.0" rx="2.2" ry="1.2" fill="#c6d8f0" opacity="0.9"/>
<ellipse cx="366.2" cy="50.2" rx="1.8" ry="0.9" fill="#a6bada" opacity="0.8"/>
<ellipse cx="374.4" cy="49.1" rx="3.2" ry="1.2" fill="#c6d8f0" opacity="0.9"/>
<ellipse cx="374.4" cy="49.3" rx="1.8" ry="0.9" fill="#a6bada" opacity="0.8"/>
<ellipse cx="380.5" cy="48.0" rx="2.7" ry="1.5" fill="#c6d8f0" opacity="0.9"/>
<ellipse cx="380.5" cy="48.2" rx="1.8" ry="0.9" fill="#a6bada" opacity="0.8"/>
<ellipse cx="275.8" cy="66.1" rx="2.3" ry="1.1" fill="#c6d8f0" opacity="0.9"/>
<ellipse cx="275.8" cy="66.3" rx="1.8" ry="0.9" fill="#a6bada" opacity="0.8"/>
<ellipse cx="284.6" cy="65.3" rx="2.8" ry="1.2" fill="#c6d8f0" opacity="0.9"/>
<ellipse cx="284.6" cy="65.5" rx="1.8" ry="0.9" fill="#a6bada" opacity="0.8"/>
<ellipse cx="290.2" cy="64.2" rx="3.0" ry="1.7" fill="#c6d8f0" opacity="0.9"/>
<ellipse cx="290.2" cy="64.4" rx="1.8" ry="0.9" fill="#a6bada" opacity="0.8"/>
<ellipse cx="299.2" cy="62.8" rx="2.3" ry="1.7" fill="#c6d8f0" opacity="0.9"/>
<ellipse cx="299.2" cy="63.0" rx="1.8" ry="0.9" fill="#a6bada" opacity="0.8"/>
<ellipse cx="306.1" cy="62.6" rx="2.5" ry="1.4" fill="#c6d8f0" opacity="0.9"/>
<ellipse cx="306.1" cy="62.8" rx="1.8" ry="0.9" fill="#a6bada" opacity="0.8"/>
<ellipse cx="312.8" cy="61.2" rx="2.8" ry="1.1" fill="#c6d8f0" opacity="0.9"/>
<ellipse cx="312.8" cy="61.4" rx="1.8" ry="0.9" fill="#a6bada" opacity="0.8"/>
<ellipse cx="321.2" cy="60.5" rx="2.4" ry="1.4" fill="#c6d8f0" opacity="0.9"/>
<ellipse cx="321.2" cy="60.7" rx="1.8" ry="0.9" fill="#a6bada" opacity="0.8"/>
<ellipse cx="327.6" cy="59.1" rx="2.4" ry="1.2" fill="#c6d8f0" opacity="0.9"/>
<ellipse cx="327.6" cy="59.3" rx="1.8" ry="0.9" fill="#a6bada" opacity="0.8"/>
<ellipse cx="333.3" cy="57.8" rx="3.1" ry="1.6" fill="#c6d8f0" opacity="0.9"/>
<ellipse cx="333.3" cy="58.0" rx="1.8" ry="0.9" fill="#a6bada" opacity="0.8"/>
<ellipse cx="342.6" cy="57.5" rx="2.8" ry="1.3" fill="#c6d8f0" opacity="0.9"/>
<ellipse cx="342.6" cy="57.7" rx="1.8" ry="0.9" fill="#a6bada" opacity="0.8"/>
<ellipse cx="348.7" cy="56.2" rx="3.2" ry="1.6" fill="#c6d8f0" opacity="0.9"/>
<ellipse cx="348.7" cy="56.4" rx="1.8" ry="0.9" fill="#a6bada" opacity="0.8"/>
<ellipse cx="355.6" cy="55.6" rx="2.9" ry="1.6" fill="#c6d8f0" opacity="0.9"/>
<ellipse cx="355.6" cy="55.8" rx="1.8" ry="0.9" fill="#a6bada" opacity="0.8"/>
<ellipse cx="363.3" cy="54.0" rx="3.1" ry="1.6" fill="#c6d8f0" opacity="0.9"/>
<ellipse cx="363.3" cy="54.2" rx="1.8" ry="0.9" fill="#a6bada" opacity="0.8"/>
<ellipse cx="370.8" cy="53.3" rx="3.0" ry="1.3" fill="#c6d8f0" opacity="0.9"/>
<ellipse cx="370.8" cy="53.5" rx="1.8" ry="0.9" fill="#a6bada" opacity="0.8"/>
<ellipse cx="376.5" cy="51.7" rx="2.5" ry="1.4" fill="#c6d8f0" opacity="0.9"/>
<ellipse cx="376.5" cy="51.9" rx="1.8" ry="0.9" fill="#a6bada" opacity="0.8"/>
<ellipse cx="382.2" cy="51.2" rx="2.8" ry="1.5" fill="#c6d8f0" opacity="0.9"/>
<ellipse cx="382.2" cy="51.4" rx="1.8" ry="0.9" fill="#a6bada" opacity="0.8"/>
<ellipse cx="391.2" cy="50.6" rx="2.9" ry="1.3" fill="#c6d8f0" opacity="0.9"/>
<ellipse cx="391.2" cy="50.8" rx="1.8" ry="0.9" fill="#a6bada" opacity="0.8"/>
<ellipse cx="279.4" cy="70.2" rx="2.7" ry="1.3" fill="#c6d8f0" opacity="0.9"/>
<ellipse cx="279.4" cy="70.4" rx="1.8" ry="0.9" fill="#a6bada" opacity="0.8"/>
<ellipse cx="287.8" cy="69.1" rx="2.9" ry="1.6" fill="#c6d8f0" opacity="0.9"/>
<ellipse cx="287.8" cy="69.3" rx="1.8" ry="0.9" fill="#a6bada" opacity="0.8"/>
<ellipse cx="294.0" cy="67.4" rx="2.8" ry="1.5" fill="#c6d8f0" opacity="0.9"/>
<ellipse cx="294.0" cy="67.6" rx="1.8" ry="0.9" fill="#a6bada" opacity="0.8"/>
<ellipse cx="299.7" cy="67.1" rx="2.3" ry="1.2" fill="#c6d8f0" opacity="0.9"/>
<ellipse cx="299.7" cy="67.3" rx="1.8" ry="0.9" fill="#a6bada" opacity="0.8"/>
<ellipse cx="306.8" cy="65.7" rx="2.5" ry="1.6" fill="#c6d8f0" opacity="0.9"/>
<ellipse cx="306.8" cy="65.9" rx="1.8" ry="0.9" fill="#a6bada" opacity="0.8"/>
<ellipse cx="315.3" cy="64.9" rx="3.2" ry="1.4" fill="#c6d8f0" opacity="0.9"/>
<ellipse cx="315.3" cy="65.1" rx="1.8" ry="0.9" fill="#a6bada" opacity="0.8"/>
<ellipse cx="324.1" cy="63.8" rx="3.0" ry="1.1" fill="#c6d8f0" opacity="0.9"/>
<ellipse cx="324.1" cy="64.0" rx="1.8" ry="0.9" fill="#a6bada" opacity="0.8"/>
<ellipse cx="330.4" cy="63.0" rx="2.2" ry="1.7" fill="#c6d8f0" opacity="0.9"/>
<ellipse cx="330.4" cy="63.2" rx="1.8" ry="0.9" fill="#a6bada" opacity="0.8"/>
<ellipse cx="335.8" cy="61.9" rx="2.4" ry="1.4" fill="#c6d8f0" opacity="0.9"/>
<ellipse cx="335.8" cy="62.1" rx="1.8" ry="0.9" fill="#a6bada" opacity="0.8"/>
<ellipse cx="343.6" cy="60.3" rx="3.1" ry="1.4" fill="#c6d8f0" opacity="0.9"/>
<ellipse cx="343.6" cy="60.5" rx="1.8" ry="0.9" fill="#a6bada" opacity="0.8"/>
<ellipse cx="351.7" cy="59.8" rx="2.6" ry="1.3" fill="#c6d8f0" opacity="0.9"/>
<ellipse cx="351.7" cy="60.0" rx="1.8" ry="0.9" fill="#a6bada" opacity="0.8"/>
<ellipse cx="359.2" cy="58.6" rx="2.5" ry="1.5" fill="#c6d8f0" opacity="0.9"/>
<ellipse cx="359.2" cy="58.8" rx="1.8" ry="0.9" fill="#a6bada" opacity="0.8"/>
<ellipse cx="364.3" cy="57.2" rx="2.4" ry="1.1" fill="#c6d8f0" opacity="0.9"/>
<ellipse cx="364.3" cy="57.4" rx="1.8" ry="0.9" fill="#a6bada" opacity="0.8"/>
<ellipse cx="372.7" cy="56.9" rx="2.6" ry="1.6" fill="#c6d8f0" opacity="0.9"/>
<ellipse cx="372.7" cy="57.1" rx="1.8" ry="0.9" fill="#a6bada" opacity="0.8"/>
<ellipse cx="380.2" cy="55.0" rx="3.2" ry="1.7" fill="#c6d8f0" opacity="0.9"/>
<ellipse cx="380.2" cy="55.2" rx="1.8" ry="0.9" fill="#a6bada" opacity="0.8"/>
<ellipse cx="387.3" cy="55.0" rx="2.6" ry="1.4" fill="#c6d8f0" opacity="0.9"/>
<ellipse cx="387.3" cy="55.2" rx="1.8" ry="0.9" fill="#a6bada" opacity="0.8"/>
<ellipse cx="395.7" cy="53.0" rx="2.7" ry="1.7" fill="#c6d8f0" opacity="0.9"/>
<ellipse cx="395.7" cy="53.2" rx="1.8" ry="0.9" fill="#a6bada" opacity="0.8"/>
<path d="M279.0,79.5 L295.6,76.9 L297.8,158.9 L282.3,163.1 Z" fill="#8ebaf0"/>
<ellipse cx="287.3" cy="78.2" rx="8.3" ry="1.5" fill="#8ebaf0"/>
<path d="M294.1,79.1 L295.6,78.9 L297.8,158.9 L296.4,159.3 Z" fill="#5580c6" opacity="0.75"/>
<path d="M280.6,120.3 L296.7,116.9 L296.7,117.9 L280.6,121.3 Z" fill="#6a96d8" opacity="0.7"/>
<path d="M296.8,74.7 L303.8,73.6 L305.6,158.3 L299.0,160.1 Z" fill="#84b0ec"/>
<ellipse cx="300.3" cy="74.1" rx="3.5" ry="1.5" fill="#84b0ec"/>
<path d="M302.4,75.8 L303.9,75.6 L305.6,158.3 L304.2,158.7 Z" fill="#5580c6" opacity="0.75"/>
<path d="M298.1,125.4 L304.9,123.9 L304.9,124.9 L298.2,126.4 Z" fill="#6a96d8" opacity="0.7"/>
<path d="M305.1,73.4 L311.5,72.4 L312.7,154.1 L306.7,155.7 Z" fill="#8ebaf0"/>
<ellipse cx="308.3" cy="72.9" rx="3.2" ry="1.5" fill="#8ebaf0"/>
<path d="M310.0,74.6 L311.5,74.4 L312.7,154.1 L311.3,154.5 Z" fill="#5580c6" opacity="0.75"/>
<path d="M305.8,106.2 L312.0,104.9 L312.0,105.9 L305.8,107.2 Z" fill="#6a96d8" opacity="0.7"/>
<path d="M312.8,72.2 L319.8,71.2 L320.5,152.1 L313.9,153.9 Z" fill="#84b0ec"/>
<ellipse cx="316.3" cy="71.7" rx="3.5" ry="1.5" fill="#84b0ec"/>
<path d="M318.3,73.4 L319.8,73.1 L320.5,152.1 L319.0,152.5 Z" fill="#5580c6" opacity="0.75"/>
<path d="M313.3,113.1 L320.1,111.7 L320.2,112.6 L313.4,114.1 Z" fill="#6a96d8" opacity="0.7"/>
<path d="M321.1,71.0 L327.5,70.0 L327.6,147.7 L321.7,149.3 Z" fill="#8ebaf0"/>
<ellipse cx="324.3" cy="70.5" rx="3.2" ry="1.5" fill="#8ebaf0"/>
<path d="M326.0,72.2 L327.5,71.9 L327.6,147.7 L326.2,148.1 Z" fill="#5580c6" opacity="0.75"/>
<path d="M321.3,101.5 L327.5,100.3 L327.5,101.3 L321.3,102.5 Z" fill="#6a96d8" opacity="0.7"/>
<path d="M328.8,69.8 L335.8,68.7 L335.4,147.5 L328.8,149.3 Z" fill="#84b0ec"/>
<ellipse cx="332.3" cy="69.3" rx="3.5" ry="1.5" fill="#84b0ec"/>
<path d="M334.3,70.9 L335.8,70.6 L335.4,147.5 L334.0,147.9 Z" fill="#5580c6" opacity="0.75"/>
<path d="M328.8,101.8 L335.6,100.5 L335.6,101.4 L328.8,102.8 Z" fill="#6a96d8" opacity="0.7"/>
<path d="M337.1,68.5 L343.5,67.6 L342.6,145.1 L336.6,146.7 Z" fill="#8ebaf0"/>
<ellipse cx="340.3" cy="68.0" rx="3.2" ry="1.5" fill="#8ebaf0"/>
<path d="M341.9,69.7 L343.4,69.5 L342.6,145.1 L341.1,145.5 Z" fill="#5580c6" opacity="0.75"/>
<path d="M336.8,113.2 L343.0,111.9 L342.9,112.8 L336.8,114.2 Z" fill="#6a96d8" opacity="0.7"/>
<path d="M344.7,67.4 L351.8,66.3 L350.4,143.1 L343.8,144.8 Z" fill="#84b0ec"/>
<ellipse cx="348.3" cy="66.8" rx="3.5" ry="1.5" fill="#84b0ec"/>
<path d="M350.2,68.4 L351.7,68.2 L350.4,143.1 L348.9,143.4 Z" fill="#5580c6" opacity="0.75"/>
<path d="M344.3,102.0 L351.1,100.6 L351.1,101.6 L344.3,103.0 Z" fill="#6a96d8" opacity="0.7"/>
<path d="M353.0,66.1 L360.1,65.0 L358.1,141.7 L351.5,143.4 Z" fill="#8ebaf0"/>
<ellipse cx="356.6" cy="65.6" rx="3.5" ry="1.5" fill="#8ebaf0"/>
<path d="M358.5,67.1 L360.0,66.9 L358.1,141.7 L356.7,142.1 Z" fill="#5580c6" opacity="0.75"/>
<path d="M352.3,104.1 L359.1,102.6 L359.1,103.6 L352.3,105.0 Z" fill="#6a96d8" opacity="0.7"/>
<path d="M361.4,64.8 L367.7,63.9 L365.2,140.8 L359.3,142.4 Z" fill="#84b0ec"/>
<ellipse cx="364.6" cy="64.3" rx="3.2" ry="1.5" fill="#84b0ec"/>
<path d="M366.2,65.9 L367.7,65.7 L365.2,140.8 L363.8,141.2 Z" fill="#5580c6" opacity="0.75"/>
<path d="M360.3,105.0 L366.4,103.6 L366.4,104.6 L360.3,105.9 Z" fill="#6a96d8" opacity="0.7"/>
<path d="M369.0,63.7 L375.4,62.7 L372.3,140.0 L366.4,141.7 Z" fill="#8ebaf0"/>
<ellipse cx="372.2" cy="63.2" rx="3.2" ry="1.5" fill="#8ebaf0"/>
<path d="M373.8,64.7 L375.3,64.5 L372.3,140.0 L370.9,140.4 Z" fill="#5580c6" opacity="0.75"/>
<path d="M367.4,113.1 L373.5,111.7 L373.4,112.6 L367.3,114.0 Z" fill="#6a96d8" opacity="0.7"/>
<path d="M376.7,62.5 L383.7,61.4 L380.2,136.5 L373.6,138.3 Z" fill="#84b0ec"/>
<ellipse cx="380.2" cy="62.0" rx="3.5" ry="1.5" fill="#84b0ec"/>
<path d="M382.1,63.5 L383.6,63.2 L380.2,136.5 L378.7,136.9 Z" fill="#5580c6" opacity="0.75"/>
<path d="M375.4,95.2 L382.2,93.8 L382.1,94.7 L375.3,96.1 Z" fill="#6a96d8" opacity="0.7"/>
<path d="M385.0,61.2 L391.4,60.2 L387.5,131.2 L381.5,132.8 Z" fill="#8ebaf0"/>
<ellipse cx="388.2" cy="60.7" rx="3.2" ry="1.5" fill="#8ebaf0"/>
<path d="M389.8,62.3 L391.3,62.0 L387.5,131.2 L386.1,131.6 Z" fill="#5580c6" opacity="0.75"/>
<path d="M382.7,108.2 L388.8,106.8 L388.8,107.7 L382.7,109.1 Z" fill="#6a96d8" opacity="0.7"/>
<path d="M392.7,60.1 L399.7,59.0 L395.1,132.7 L388.5,134.5 Z" fill="#84b0ec"/>
<ellipse cx="396.2" cy="59.5" rx="3.5" ry="1.5" fill="#84b0ec"/>
<path d="M398.1,61.0 L399.6,60.7 L395.1,132.7 L393.6,133.1 Z" fill="#5580c6" opacity="0.75"/>
<path d="M390.4,100.6 L397.2,99.1 L397.1,100.0 L390.3,101.5 Z" fill="#6a96d8" opacity="0.7"/>
<ellipse cx="324.9" cy="152.1" rx="2.2" ry="1.2" fill="#8ab2e8" opacity="0.8"/>
<ellipse cx="362.1" cy="144.9" rx="2.2" ry="1.2" fill="#8ab2e8" opacity="0.8"/>
<ellipse cx="351.4" cy="148.6" rx="2.2" ry="1.2" fill="#8ab2e8" opacity="0.8"/>
<ellipse cx="370.1" cy="139.0" rx="2.2" ry="1.2" fill="#8ab2e8" opacity="0.8"/>
<ellipse cx="312.4" cy="163.3" rx="2.2" ry="1.2" fill="#8ab2e8" opacity="0.8"/>
<ellipse cx="388.3" cy="140.6" rx="2.2" ry="1.2" fill="#8ab2e8" opacity="0.8"/>
<ellipse cx="288.2" cy="159.8" rx="2.2" ry="1.2" fill="#8ab2e8" opacity="0.8"/>
<ellipse cx="314.8" cy="156.6" rx="2.2" ry="1.2" fill="#8ab2e8" opacity="0.8"/>
<ellipse cx="355.2" cy="142.1" rx="2.2" ry="1.2" fill="#8ab2e8" opacity="0.8"/>
<ellipse cx="345.8" cy="144.3" rx="2.2" ry="1.2" fill="#8ab2e8" opacity="0.8"/>
<ellipse cx="293.8" cy="165.2" rx="2.2" ry="1.2" fill="#8ab2e8" opacity="0.8"/>
<ellipse cx="346.7" cy="149.9" rx="2.2" ry="1.2" fill="#8ab2e8" opacity="0.8"/>
<ellipse cx="326.5" cy="153.9" rx="2.2" ry="1.2" fill="#8ab2e8" opacity="0.8"/>
<ellipse cx="307.9" cy="157.6" rx="2.2" ry="1.2" fill="#8ab2e8" opacity="0.8"/>
<ellipse cx="368.8" cy="145.7" rx="2.2" ry="1.2" fill="#8ab2e8" opacity="0.8"/>
<ellipse cx="292.2" cy="159.4" rx="2.2" ry="1.2" fill="#8ab2e8" opacity="0.8"/>
<ellipse cx="376.3" cy="141.5" rx="2.2" ry="1.2" fill="#8ab2e8" opacity="0.8"/>
<ellipse cx="371.8" cy="138.7" rx="2.2" ry="1.2" fill="#8ab2e8" opacity="0.8"/>
<ellipse cx="332.3" cy="150.0" rx="2.2" ry="1.2" fill="#8ab2e8" opacity="0.8"/>
<ellipse cx="376.5" cy="139.0" rx="2.2" ry="1.2" fill="#8ab2e8" opacity="0.8"/>
<ellipse cx="358.4" cy="150.2" rx="2.2" ry="1.2" fill="#8ab2e8" opacity="0.8"/>
<ellipse cx="321.0" cy="156.2" rx="2.2" ry="1.2" fill="#8ab2e8" opacity="0.8"/>
<ellipse cx="369.0" cy="146.5" rx="2.2" ry="1.2" fill="#8ab2e8" opacity="0.8"/>
<ellipse cx="332.7" cy="151.0" rx="2.2" ry="1.2" fill="#8ab2e8" opacity="0.8"/>
<path d="M243.5,51.0 L245.6,52.4 L252.5,136.1 L250.6,133.8 Z" fill="#d2e2f6" opacity="0.8"/>
<path d="M246.5,55.5 L247.3,56.1 L253.9,137.9 L253.1,136.9 Z" fill="#7fa3d8" opacity="0.7"/>
<path d="M248.4,54.4 L250.5,55.8 L257.0,141.7 L255.1,139.3 Z" fill="#d2e2f6" opacity="0.8"/>
<path d="M251.4,59.0 L252.3,59.6 L258.4,143.4 L257.6,142.5 Z" fill="#7fa3d8" opacity="0.7"/>
<path d="M253.4,57.8 L255.5,59.2 L261.4,147.2 L259.6,144.9 Z" fill="#d2e2f6" opacity="0.8"/>
<path d="M256.3,62.4 L257.2,63.0 L262.9,149.0 L262.1,148.0 Z" fill="#7fa3d8" opacity="0.7"/>
<path d="M258.3,61.1 L260.4,62.6 L265.9,152.8 L264.0,150.5 Z" fill="#d2e2f6" opacity="0.8"/>
<path d="M261.3,65.9 L262.1,66.5 L267.3,154.5 L266.6,153.6 Z" fill="#7fa3d8" opacity="0.7"/>
<path d="M263.3,64.5 L265.4,66.0 L270.4,158.4 L268.5,156.0 Z" fill="#d2e2f6" opacity="0.8"/>
<path d="M266.2,69.4 L267.1,70.0 L271.8,160.1 L271.0,159.1 Z" fill="#7fa3d8" opacity="0.7"/>
<path d="M268.2,67.9 L270.3,69.3 L274.9,163.9 L273.0,161.6 Z" fill="#d2e2f6" opacity="0.8"/>
<path d="M271.1,72.8 L272.0,73.4 L276.3,165.7 L275.5,164.7 Z" fill="#7fa3d8" opacity="0.7"/>
<path d="M273.2,71.3 L275.3,72.7 L279.4,169.5 L277.5,167.1 Z" fill="#d2e2f6" opacity="0.8"/>
<path d="M276.1,76.3 L276.9,76.9 L280.8,171.2 L280.0,170.3 Z" fill="#7fa3d8" opacity="0.7"/>
<ellipse cx="317" cy="105" rx="1.8" ry="3.5" fill="#2a2a30" opacity="0.85"/>
<ellipse cx="342" cy="88" rx="1.2" ry="1.2" fill="#2a2a30" opacity="0.85"/>
<ellipse cx="366" cy="82" rx="1" ry="1" fill="#2a2a30" opacity="0.85"/>
<ellipse cx="379" cy="85" rx="1" ry="1" fill="#2a2a30" opacity="0.85"/>
<ellipse cx="354" cy="103" rx="1.5" ry="1.2" fill="#2a2a30" opacity="0.85"/>
<ellipse cx="374" cy="112" rx="1.6" ry="1.2" fill="#2a2a30" opacity="0.85"/>
<ellipse cx="284" cy="134" rx="3" ry="0.6" fill="#2a2a30" opacity="0.85"/>
<ellipse cx="285" cy="142" rx="3" ry="0.6" fill="#2a2a30" opacity="0.85"/>
<ellipse cx="296" cy="139" rx="1.2" ry="1" fill="#2a2a30" opacity="0.85"/>
<ellipse cx="318" cy="155" rx="1.2" ry="1" fill="#2a2a30" opacity="0.85"/>
<ellipse cx="370" cy="126" rx="1.2" ry="1" fill="#2a2a30" opacity="0.85"/>
<ellipse cx="337" cy="150" rx="1" ry="1" fill="#2a2a30" opacity="0.85"/>
<path d="M346,80 L354,78 L353,93 L346,95 Z" fill="#3a5a8a" opacity="0.7"/>
<path d="M243.5,50 L250.5,134 M396,142 L406,148 M388,147 L398,151" stroke="#ffffff" stroke-width="1.3" opacity="0.85"/>
<path d="M458.8,49.0 L571.3,32.6 L627.0,55.3 L488.0,73.0 Z" fill="#cfe6fb"/>
<path d="M458.8,49.0 L488.0,73.0 L500.5,174.0 L465.0,133.7 Z" fill="#5b9ee8"/>
<path d="M488.0,73.0 L627.0,55.3 L617.3,139.4 L499.9,168.9 Z" fill="#4e92e0"/>
<ellipse cx="467.0" cy="49.1" rx="3.8" ry="1.8" fill="#66aaf0"/>
<ellipse cx="476.6" cy="48.0" rx="4.0" ry="1.5" fill="#66aaf0"/>
<ellipse cx="483.8" cy="47.3" rx="3.3" ry="1.7" fill="#66aaf0"/>
<ellipse cx="492.9" cy="46.0" rx="3.5" ry="1.6" fill="#66aaf0"/>
<ellipse cx="500.0" cy="45.1" rx="3.6" ry="1.6" fill="#66aaf0"/>
<ellipse cx="508.5" cy="43.7" rx="4.1" ry="2.1" fill="#66aaf0"/>
<ellipse cx="516.6" cy="42.3" rx="4.0" ry="1.7" fill="#66aaf0"/>
<ellipse cx="523.0" cy="41.4" rx="4.1" ry="2.0" fill="#66aaf0"/>
<ellipse cx="530.7" cy="40.2" rx="3.6" ry="1.7" fill="#66aaf0"/>
<ellipse cx="538.9" cy="39.1" rx="3.4" ry="1.8" fill="#66aaf0"/>
<ellipse cx="548.0" cy="37.9" rx="4.0" ry="1.8" fill="#66aaf0"/>
<ellipse cx="554.8" cy="37.2" rx="4.1" ry="1.7" fill="#66aaf0"/>
<ellipse cx="561.9" cy="35.9" rx="3.7" ry="1.8" fill="#66aaf0"/>
<ellipse cx="572.3" cy="34.6" rx="4.0" ry="1.5" fill="#66aaf0"/>
<ellipse cx="468.8" cy="53.2" rx="3.3" ry="1.5" fill="#66aaf0"/>
<ellipse cx="477.5" cy="52.1" rx="3.3" ry="1.9" fill="#66aaf0"/>
<ellipse cx="484.0" cy="51.0" rx="3.8" ry="1.6" fill="#66aaf0"/>
<ellipse cx="492.3" cy="49.8" rx="3.7" ry="2.0" fill="#66aaf0"/>
<ellipse cx="500.2" cy="48.2" rx="4.2" ry="1.9" fill="#66aaf0"/>
<ellipse cx="508.9" cy="47.2" rx="3.9" ry="1.9" fill="#66aaf0"/>
<ellipse cx="517.8" cy="45.8" rx="4.0" ry="1.9" fill="#66aaf0"/>
<ellipse cx="526.4" cy="45.0" rx="4.0" ry="2.0" fill="#66aaf0"/>
<ellipse cx="534.5" cy="43.7" rx="3.7" ry="1.9" fill="#66aaf0"/>
<ellipse cx="541.8" cy="42.4" rx="3.6" ry="1.6" fill="#66aaf0"/>
<ellipse cx="550.8" cy="41.8" rx="3.6" ry="1.6" fill="#66aaf0"/>
<ellipse cx="556.6" cy="40.3" rx="3.5" ry="2.1" fill="#66aaf0"/>
<ellipse cx="564.1" cy="39.1" rx="3.3" ry="1.9" fill="#66aaf0"/>
<ellipse cx="573.7" cy="37.6" rx="3.3" ry="1.8" fill="#66aaf0"/>
<ellipse cx="475.1" cy="55.2" rx="3.4" ry="1.9" fill="#66aaf0"/>
<ellipse cx="484.5" cy="53.9" rx="3.4" ry="1.7" fill="#66aaf0"/>
<ellipse cx="492.4" cy="53.4" rx="3.5" ry="1.8" fill="#66aaf0"/>
<ellipse cx="502.0" cy="51.7" rx="3.5" ry="2.0" fill="#66aaf0"/>
<ellipse cx="510.4" cy="50.4" rx="3.7" ry="2.1" fill="#66aaf0"/>
<ellipse cx="517.4" cy="49.3" rx="3.2" ry="2.1" fill="#66aaf0"/>
<ellipse cx="526.8" cy="48.2" rx="3.7" ry="1.8" fill="#66aaf0"/>
<ellipse cx="534.8" cy="47.7" rx="3.9" ry="1.6" fill="#66aaf0"/>
<ellipse cx="541.6" cy="46.2" rx="3.6" ry="2.0" fill="#66aaf0"/>
<ellipse cx="551.9" cy="44.9" rx="3.4" ry="1.6" fill="#66aaf0"/>
<ellipse cx="558.7" cy="43.6" rx="4.1" ry="1.8" fill="#66aaf0"/>
<ellipse cx="569.2" cy="43.0" rx="3.5" ry="1.8" fill="#66aaf0"/>
<ellipse cx="575.9" cy="41.8" rx="3.2" ry="2.0" fill="#66aaf0"/>
<ellipse cx="586.1" cy="40.4" rx="3.3" ry="1.7" fill="#66aaf0"/>
<ellipse cx="476.0" cy="58.5" rx="3.7" ry="1.8" fill="#66aaf0"/>
<ellipse cx="485.7" cy="57.7" rx="4.1" ry="1.7" fill="#66aaf0"/>
<ellipse cx="493.6" cy="56.4" rx="4.1" ry="1.6" fill="#66aaf0"/>
<ellipse cx="502.0" cy="55.0" rx="3.7" ry="1.8" fill="#66aaf0"/>
<ellipse cx="509.7" cy="54.6" rx="3.5" ry="1.7" fill="#66aaf0"/>
<ellipse cx="517.3" cy="53.0" rx="3.7" ry="1.9" fill="#66aaf0"/>
<ellipse cx="527.1" cy="52.1" rx="3.3" ry="1.7" fill="#66aaf0"/>
<ellipse cx="536.4" cy="51.1" rx="4.0" ry="1.9" fill="#66aaf0"/>
<ellipse cx="542.9" cy="49.6" rx="3.9" ry="1.6" fill="#66aaf0"/>
<ellipse cx="553.0" cy="48.3" rx="3.2" ry="2.1" fill="#66aaf0"/>
<ellipse cx="561.7" cy="46.9" rx="3.8" ry="1.7" fill="#66aaf0"/>
<ellipse cx="569.8" cy="46.1" rx="3.5" ry="1.7" fill="#66aaf0"/>
<ellipse cx="578.6" cy="45.1" rx="3.5" ry="1.6" fill="#66aaf0"/>
<ellipse cx="587.4" cy="43.5" rx="4.1" ry="1.8" fill="#66aaf0"/>
<ellipse cx="475.6" cy="62.0" rx="3.3" ry="1.6" fill="#66aaf0"/>
<ellipse cx="484.7" cy="61.4" rx="3.4" ry="1.7" fill="#66aaf0"/>
<ellipse cx="493.8" cy="60.1" rx="3.3" ry="1.6" fill="#66aaf0"/>
<ellipse cx="500.2" cy="58.7" rx="3.6" ry="1.5" fill="#66aaf0"/>
<ellipse cx="511.4" cy="57.6" rx="3.7" ry="1.9" fill="#66aaf0"/>
<ellipse cx="520.3" cy="56.8" rx="3.6" ry="1.7" fill="#66aaf0"/>
<ellipse cx="527.0" cy="55.0" rx="3.6" ry="1.9" fill="#66aaf0"/>
<ellipse cx="538.5" cy="54.3" rx="3.9" ry="1.9" fill="#66aaf0"/>
<ellipse cx="544.0" cy="53.1" rx="3.5" ry="1.9" fill="#66aaf0"/>
<ellipse cx="553.1" cy="51.9" rx="3.7" ry="2.0" fill="#66aaf0"/>
<ellipse cx="564.1" cy="50.7" rx="3.4" ry="2.0" fill="#66aaf0"/>
<ellipse cx="573.0" cy="49.4" rx="3.6" ry="1.8" fill="#66aaf0"/>
<ellipse cx="580.1" cy="48.6" rx="4.2" ry="1.8" fill="#66aaf0"/>
<ellipse cx="590.7" cy="47.4" rx="3.4" ry="2.1" fill="#66aaf0"/>
<ellipse cx="598.0" cy="45.7" rx="3.3" ry="1.6" fill="#66aaf0"/>
<ellipse cx="483.8" cy="65.1" rx="3.5" ry="2.1" fill="#66aaf0"/>
<ellipse cx="492.0" cy="63.7" rx="3.3" ry="2.1" fill="#66aaf0"/>
<ellipse cx="500.9" cy="63.0" rx="3.7" ry="1.8" fill="#66aaf0"/>
<ellipse cx="510.3" cy="61.1" rx="4.1" ry="2.1" fill="#66aaf0"/>
<ellipse cx="520.4" cy="60.1" rx="3.3" ry="2.0" fill="#66aaf0"/>
<ellipse cx="528.5" cy="59.4" rx="3.4" ry="1.8" fill="#66aaf0"/>
<ellipse cx="537.9" cy="57.4" rx="3.7" ry="1.5" fill="#66aaf0"/>
<ellipse cx="544.7" cy="56.4" rx="4.2" ry="2.1" fill="#66aaf0"/>
<ellipse cx="555.6" cy="55.1" rx="3.9" ry="1.9" fill="#66aaf0"/>
<ellipse cx="564.4" cy="54.3" rx="4.0" ry="1.5" fill="#66aaf0"/>
<ellipse cx="572.7" cy="53.1" rx="3.3" ry="1.7" fill="#66aaf0"/>
<ellipse cx="582.1" cy="51.5" rx="3.7" ry="1.7" fill="#66aaf0"/>
<ellipse cx="591.4" cy="50.4" rx="3.8" ry="1.5" fill="#66aaf0"/>
<ellipse cx="600.3" cy="49.0" rx="4.2" ry="1.9" fill="#66aaf0"/>
<ellipse cx="609.3" cy="48.1" rx="3.8" ry="1.9" fill="#66aaf0"/>
<ellipse cx="483.5" cy="68.6" rx="3.7" ry="2.1" fill="#66aaf0"/>
<ellipse cx="493.1" cy="67.5" rx="3.6" ry="1.8" fill="#66aaf0"/>
<ellipse cx="501.7" cy="66.4" rx="3.7" ry="1.8" fill="#66aaf0"/>
<ellipse cx="510.6" cy="65.3" rx="3.5" ry="1.5" fill="#66aaf0"/>
<ellipse cx="520.7" cy="64.0" rx="3.9" ry="1.9" fill="#66aaf0"/>
<ellipse cx="529.2" cy="62.2" rx="3.8" ry="1.5" fill="#66aaf0"/>
<ellipse cx="536.9" cy="61.4" rx="3.7" ry="1.7" fill="#66aaf0"/>
<ellipse cx="546.3" cy="60.4" rx="3.7" ry="1.6" fill="#66aaf0"/>
<ellipse cx="555.8" cy="58.8" rx="3.4" ry="1.5" fill="#66aaf0"/>
<ellipse cx="567.7" cy="57.9" rx="3.9" ry="2.0" fill="#66aaf0"/>
<ellipse cx="575.3" cy="56.8" rx="3.4" ry="1.9" fill="#66aaf0"/>
<ellipse cx="585.1" cy="55.6" rx="3.3" ry="2.0" fill="#66aaf0"/>
<ellipse cx="592.5" cy="54.2" rx="4.2" ry="1.5" fill="#66aaf0"/>
<ellipse cx="601.6" cy="52.8" rx="3.5" ry="1.5" fill="#66aaf0"/>
<ellipse cx="613.7" cy="51.8" rx="3.6" ry="1.7" fill="#66aaf0"/>
<ellipse cx="490.6" cy="70.5" rx="3.2" ry="2.0" fill="#66aaf0"/>
<ellipse cx="499.8" cy="69.7" rx="4.1" ry="2.1" fill="#66aaf0"/>
<ellipse cx="509.4" cy="68.2" rx="3.5" ry="2.1" fill="#66aaf0"/>
<ellipse cx="520.0" cy="66.8" rx="4.0" ry="1.7" fill="#66aaf0"/>
<ellipse cx="528.3" cy="65.8" rx="4.1" ry="2.1" fill="#66aaf0"/>
<ellipse cx="537.6" cy="65.0" rx="3.4" ry="2.0" fill="#66aaf0"/>
<ellipse cx="545.9" cy="63.4" rx="3.9" ry="1.7" fill="#66aaf0"/>
<ellipse cx="559.0" cy="62.6" rx="3.9" ry="1.6" fill="#66aaf0"/>
<ellipse cx="568.0" cy="61.5" rx="3.6" ry="1.5" fill="#66aaf0"/>
<ellipse cx="575.0" cy="59.9" rx="3.9" ry="1.6" fill="#66aaf0"/>
<ellipse cx="584.2" cy="58.6" rx="3.9" ry="2.0" fill="#66aaf0"/>
<ellipse cx="595.0" cy="57.7" rx="4.1" ry="1.9" fill="#66aaf0"/>
<ellipse cx="603.4" cy="56.2" rx="4.1" ry="1.9" fill="#66aaf0"/>
<ellipse cx="613.7" cy="55.3" rx="3.3" ry="2.1" fill="#66aaf0"/>
<ellipse cx="623.4" cy="53.9" rx="3.7" ry="1.5" fill="#66aaf0"/>
<path d="M459.1,49.2 L461.7,51.4 L468.4,136.0 L465.2,132.4 Z" fill="#88c2f4"/>
<path d="M459.1,49.2 L459.7,49.7 L465.9,133.2 L465.2,132.4 Z" fill="#b8dcfa"/>
<path d="M462.7,52.2 L465.4,54.4 L472.8,141.0 L469.7,137.4 Z" fill="#88c2f4"/>
<path d="M462.7,52.2 L463.3,52.7 L470.4,138.2 L469.7,137.4 Z" fill="#b8dcfa"/>
<path d="M466.4,55.2 L469.0,57.4 L477.3,146.0 L474.1,142.4 Z" fill="#88c2f4"/>
<path d="M466.4,55.2 L467.0,55.7 L474.8,143.2 L474.1,142.4 Z" fill="#b8dcfa"/>
<path d="M470.0,58.2 L472.7,60.4 L481.7,151.0 L478.5,147.4 Z" fill="#88c2f4"/>
<path d="M470.0,58.2 L470.6,58.7 L479.2,148.2 L478.5,147.4 Z" fill="#b8dcfa"/>
<path d="M473.7,61.2 L476.3,63.4 L486.1,156.0 L482.9,152.4 Z" fill="#88c2f4"/>
<path d="M473.7,61.2 L474.3,61.7 L483.6,153.2 L482.9,152.4 Z" fill="#b8dcfa"/>
<path d="M477.3,64.2 L480.0,66.4 L490.5,161.0 L487.3,157.4 Z" fill="#88c2f4"/>
<path d="M477.3,64.2 L477.9,64.7 L488.0,158.2 L487.3,157.4 Z" fill="#b8dcfa"/>
<path d="M481.0,67.2 L483.6,69.4 L494.9,166.0 L491.8,162.4 Z" fill="#88c2f4"/>
<path d="M481.0,67.2 L481.6,67.7 L492.5,163.2 L491.8,162.4 Z" fill="#b8dcfa"/>
<path d="M484.6,70.2 L487.3,72.4 L499.4,171.0 L496.2,167.4 Z" fill="#88c2f4"/>
<path d="M484.6,70.2 L485.2,70.7 L496.9,168.2 L496.2,167.4 Z" fill="#b8dcfa"/>
<path d="M489.0,71.8 L496.5,70.9 L506.9,165.0 L500.5,166.5 Z" fill="#8ec6f5"/>
<path d="M489.0,71.8 L490.4,71.7 L501.7,166.2 L500.5,166.5 Z" fill="#c0e2fb"/>
<path d="M494.8,71.1 L496.5,70.9 L506.9,165.0 L505.5,165.3 Z" fill="#6aaaee"/>
<path d="M492.0,96.8 L499.3,95.7 L499.4,96.9 L492.2,98.0 Z" fill="#66a6ea" opacity="0.85"/>
<path d="M497.3,139.5 L503.9,138.1 L504.1,139.3 L497.4,140.7 Z" fill="#66a6ea" opacity="0.85"/>
<path d="M497.6,70.8 L503.7,70.0 L513.0,163.4 L507.9,164.7 Z" fill="#8ec6f5"/>
<path d="M497.6,70.8 L499.0,70.6 L509.0,164.4 L507.9,164.7 Z" fill="#c0e2fb"/>
<path d="M502.0,70.2 L503.7,70.0 L513.0,163.4 L511.6,163.8 Z" fill="#6aaaee"/>
<path d="M501.1,103.1 L506.9,102.2 L507.0,103.4 L501.3,104.3 Z" fill="#66a6ea" opacity="0.85"/>
<path d="M503.7,126.7 L509.3,125.7 L509.4,126.9 L503.9,127.9 Z" fill="#66a6ea" opacity="0.85"/>
<path d="M504.8,69.9 L511.4,69.0 L519.8,164.4 L514.2,165.8 Z" fill="#8ec6f5"/>
<path d="M504.8,69.9 L506.2,69.7 L515.4,165.5 L514.2,165.8 Z" fill="#c0e2fb"/>
<path d="M509.8,69.2 L511.4,69.0 L519.8,164.4 L518.4,164.8 Z" fill="#6aaaee"/>
<path d="M507.1,93.5 L513.5,92.5 L513.6,93.7 L507.3,94.7 Z" fill="#66a6ea" opacity="0.85"/>
<path d="M511.5,138.4 L517.4,137.2 L517.5,138.4 L511.7,139.6 Z" fill="#66a6ea" opacity="0.85"/>
<path d="M512.6,68.9 L521.2,67.8 L527.6,157.3 L520.3,159.1 Z" fill="#8ec6f5"/>
<path d="M512.6,68.9 L514.0,68.7 L521.5,158.8 L520.3,159.1 Z" fill="#c0e2fb"/>
<path d="M519.5,68.0 L521.2,67.8 L527.6,157.3 L526.2,157.7 Z" fill="#6aaaee"/>
<path d="M514.9,96.5 L523.1,95.2 L523.2,96.3 L515.0,97.6 Z" fill="#66a6ea" opacity="0.85"/>
<path d="M518.2,134.1 L525.8,132.5 L525.9,133.7 L518.3,135.3 Z" fill="#66a6ea" opacity="0.85"/>
<path d="M522.3,67.6 L529.2,66.8 L535.0,164.3 L529.2,165.8 Z" fill="#8ec6f5"/>
<path d="M522.3,67.6 L523.7,67.5 L530.4,165.5 L529.2,165.8 Z" fill="#c0e2fb"/>
<path d="M527.5,67.0 L529.2,66.8 L535.0,164.3 L533.6,164.7 Z" fill="#6aaaee"/>
<path d="M524.2,95.6 L530.8,94.5 L530.9,95.7 L524.3,96.7 Z" fill="#66a6ea" opacity="0.85"/>
<path d="M526.0,121.1 L532.3,119.9 L532.4,121.1 L526.1,122.3 Z" fill="#66a6ea" opacity="0.85"/>
<path d="M530.3,66.6 L537.7,65.7 L542.0,159.8 L535.7,161.3 Z" fill="#8ec6f5"/>
<path d="M530.3,66.6 L531.7,66.5 L536.9,161.0 L535.7,161.3 Z" fill="#c0e2fb"/>
<path d="M536.0,65.9 L537.7,65.7 L542.0,159.8 L540.6,160.1 Z" fill="#6aaaee"/>
<path d="M531.8,92.3 L538.9,91.2 L538.9,92.3 L531.8,93.5 Z" fill="#66a6ea" opacity="0.85"/>
<path d="M533.9,129.0 L540.5,127.6 L540.6,128.8 L534.0,130.2 Z" fill="#66a6ea" opacity="0.85"/>
<path d="M538.8,65.6 L546.8,64.5 L549.6,156.6 L542.9,158.3 Z" fill="#8ec6f5"/>
<path d="M538.8,65.6 L540.2,65.4 L544.0,158.0 L542.9,158.3 Z" fill="#c0e2fb"/>
<path d="M545.2,64.8 L546.8,64.5 L549.6,156.6 L548.2,156.9 Z" fill="#6aaaee"/>
<path d="M540.0,93.1 L547.7,91.9 L547.7,93.1 L540.1,94.3 Z" fill="#66a6ea" opacity="0.85"/>
<path d="M541.7,131.0 L548.8,129.5 L548.8,130.7 L541.7,132.2 Z" fill="#66a6ea" opacity="0.85"/>
<path d="M548.0,64.4 L555.7,63.4 L557.1,154.7 L550.6,156.4 Z" fill="#8ec6f5"/>
<path d="M548.0,64.4 L549.4,64.2 L551.7,156.1 L550.6,156.4 Z" fill="#c0e2fb"/>
<path d="M554.0,63.6 L555.7,63.4 L557.1,154.7 L555.7,155.1 Z" fill="#6aaaee"/>
<path d="M548.9,98.1 L556.2,96.9 L556.2,98.0 L548.9,99.3 Z" fill="#66a6ea" opacity="0.85"/>
<path d="M549.4,116.5 L556.5,115.1 L556.5,116.3 L549.5,117.6 Z" fill="#66a6ea" opacity="0.85"/>
<path d="M556.8,63.3 L564.8,62.3 L564.8,149.4 L558.0,151.1 Z" fill="#8ec6f5"/>
<path d="M556.8,63.3 L558.2,63.1 L559.2,150.8 L558.0,151.1 Z" fill="#c0e2fb"/>
<path d="M563.2,62.5 L564.8,62.3 L564.8,149.4 L563.4,149.8 Z" fill="#6aaaee"/>
<path d="M557.2,91.8 L564.8,90.6 L564.8,91.7 L557.2,93.0 Z" fill="#66a6ea" opacity="0.85"/>
<path d="M557.5,116.1 L564.8,114.7 L564.8,115.8 L557.5,117.2 Z" fill="#66a6ea" opacity="0.85"/>
<path d="M566.0,62.1 L573.0,61.2 L571.7,153.4 L565.7,154.9 Z" fill="#8ec6f5"/>
<path d="M566.0,62.1 L567.3,62.0 L566.9,154.6 L565.7,154.9 Z" fill="#c0e2fb"/>
<path d="M571.4,61.5 L573.0,61.2 L571.7,153.4 L570.3,153.8 Z" fill="#6aaaee"/>
<path d="M565.9,93.0 L572.6,91.9 L572.6,93.0 L565.9,94.1 Z" fill="#66a6ea" opacity="0.85"/>
<path d="M565.8,124.9 L572.1,123.6 L572.1,124.7 L565.8,126.1 Z" fill="#66a6ea" opacity="0.85"/>
<path d="M574.1,61.1 L580.6,60.3 L578.1,149.1 L572.6,150.5 Z" fill="#8ec6f5"/>
<path d="M574.1,61.1 L575.5,60.9 L573.8,150.2 L572.6,150.5 Z" fill="#c0e2fb"/>
<path d="M579.0,60.5 L580.6,60.3 L578.1,149.1 L576.7,149.5 Z" fill="#6aaaee"/>
<path d="M573.8,83.8 L580.0,82.8 L580.0,83.9 L573.7,84.9 Z" fill="#66a6ea" opacity="0.85"/>
<path d="M573.2,119.5 L579.0,118.3 L579.0,119.4 L573.1,120.6 Z" fill="#66a6ea" opacity="0.85"/>
<path d="M581.8,60.1 L589.0,59.2 L585.4,143.2 L579.2,144.7 Z" fill="#8ec6f5"/>
<path d="M581.8,60.1 L583.2,60.0 L580.4,144.4 L579.2,144.7 Z" fill="#c0e2fb"/>
<path d="M587.3,59.4 L589.0,59.2 L585.4,143.2 L583.9,143.5 Z" fill="#6aaaee"/>
<path d="M580.9,87.9 L587.8,86.8 L587.8,87.9 L580.9,89.0 Z" fill="#66a6ea" opacity="0.85"/>
<path d="M579.9,120.6 L586.4,119.2 L586.3,120.3 L579.9,121.7 Z" fill="#66a6ea" opacity="0.85"/>
<path d="M590.1,59.1 L597.6,58.1 L592.2,149.1 L586.0,150.7 Z" fill="#8ec6f5"/>
<path d="M590.1,59.1 L591.5,58.9 L587.1,150.4 L586.0,150.7 Z" fill="#c0e2fb"/>
<path d="M595.9,58.4 L597.6,58.1 L592.2,149.1 L590.8,149.4 Z" fill="#6aaaee"/>
<path d="M589.1,80.8 L596.3,79.7 L596.2,80.8 L589.1,81.9 Z" fill="#66a6ea" opacity="0.85"/>
<path d="M587.9,108.7 L594.6,107.4 L594.6,108.5 L587.8,109.8 Z" fill="#66a6ea" opacity="0.85"/>
<path d="M598.7,58.0 L604.6,57.3 L598.3,144.1 L593.3,145.4 Z" fill="#8ec6f5"/>
<path d="M598.7,58.0 L600.1,57.8 L594.5,145.1 L593.3,145.4 Z" fill="#c0e2fb"/>
<path d="M602.9,57.5 L604.6,57.3 L598.3,144.1 L596.9,144.5 Z" fill="#6aaaee"/>
<path d="M597.1,83.1 L602.8,82.2 L602.7,83.3 L597.1,84.2 Z" fill="#66a6ea" opacity="0.85"/>
<path d="M595.3,112.5 L600.7,111.4 L600.6,112.5 L595.3,113.6 Z" fill="#66a6ea" opacity="0.85"/>
<path d="M605.7,57.1 L612.3,56.3 L604.6,145.2 L599.0,146.6 Z" fill="#8ec6f5"/>
<path d="M605.7,57.1 L607.1,56.9 L600.2,146.3 L599.0,146.6 Z" fill="#c0e2fb"/>
<path d="M610.6,56.5 L612.3,56.3 L604.6,145.2 L603.2,145.6 Z" fill="#6aaaee"/>
<path d="M604.2,77.1 L610.5,76.1 L610.4,77.2 L604.1,78.2 Z" fill="#66a6ea" opacity="0.85"/>
<path d="M601.0,119.6 L606.9,118.4 L606.8,119.5 L601.0,120.7 Z" fill="#66a6ea" opacity="0.85"/>
<path d="M613.4,56.1 L620.8,55.2 L612.0,141.1 L605.7,142.7 Z" fill="#8ec6f5"/>
<path d="M613.4,56.1 L614.8,56.0 L606.9,142.4 L605.7,142.7 Z" fill="#c0e2fb"/>
<path d="M619.1,55.4 L620.8,55.2 L612.0,141.1 L610.6,141.5 Z" fill="#6aaaee"/>
<path d="M610.8,85.6 L617.8,84.5 L617.7,85.6 L610.7,86.7 Z" fill="#66a6ea" opacity="0.85"/>
<path d="M608.9,106.2 L615.7,104.9 L615.6,105.9 L608.8,107.3 Z" fill="#66a6ea" opacity="0.85"/>
<path d="M621.9,55.1 L627.1,54.4 L617.5,137.7 L613.1,138.8 Z" fill="#8ec6f5"/>
<path d="M621.9,55.1 L623.3,54.9 L614.3,138.5 L613.1,138.8 Z" fill="#c0e2fb"/>
<path d="M625.4,54.6 L627.1,54.4 L617.5,137.7 L616.1,138.1 Z" fill="#6aaaee"/>
<path d="M619.9,74.3 L624.9,73.6 L624.8,74.6 L619.8,75.4 Z" fill="#66a6ea" opacity="0.85"/>
<path d="M616.6,106.0 L621.3,105.1 L621.1,106.2 L616.4,107.1 Z" fill="#66a6ea" opacity="0.85"/>
<ellipse cx="530" cy="107" rx="2.8" ry="6.5" fill="#151515"/>
<ellipse cx="565" cy="83" rx="1.5" ry="1" fill="#151515"/>
<ellipse cx="587.7" cy="73" rx="1.2" ry="1.5" fill="#151515"/>
<ellipse cx="597.8" cy="80.6" rx="2" ry="1" fill="#151515"/>
<ellipse cx="613" cy="82" rx="2" ry="1" fill="#151515"/>
<ellipse cx="558.7" cy="99.5" rx="2" ry="1" fill="#151515"/>
<ellipse cx="594" cy="122.3" rx="2" ry="2" fill="#151515"/>
<ellipse cx="606.7" cy="133.7" rx="2" ry="1" fill="#151515"/>
<ellipse cx="506.9" cy="145" rx="2" ry="1.2" fill="#151515"/>
<ellipse cx="503" cy="170" rx="2" ry="1" fill="#151515"/>
<ellipse cx="537.2" cy="165.3" rx="1.2" ry="1.6" fill="#151515"/>
<ellipse cx="549.8" cy="156.4" rx="1.5" ry="1.2" fill="#151515"/>
<ellipse cx="596" cy="116" rx="1.8" ry="1.2" fill="#151515"/>
<path d="M563,76 L574,74 L573,90 L562,93 Z" fill="#2e5a90" opacity="0.8"/>
<path d="M609,114 L615,113 L614,124 L609,125 Z" fill="#2e5a90" opacity="0.7"/>
<linearGradient id="photoBg" x1="0" y1="0" x2="0" y2="1"><stop offset="0" stop-color="#7a7b77"/><stop offset="1" stop-color="#8a8b88"/></linearGradient>
<linearGradient id="fox" x1="0" y1="0" x2="1" y2="0.5"><stop offset="0" stop-color="#e8dab6"/><stop offset="0.35" stop-color="#d2b07c"/><stop offset="1" stop-color="#b48c58"/></linearGradient>
<svg x="669.6" y="36.3" width="85.4" height="130" viewBox="669.6 36.3 85.4 130" overflow="hidden">
<rect x="669.6" y="36.3" width="85.4" height="130" fill="url(#photoBg)"/>
<g stroke="#c4a778" stroke-width="0.4" opacity="0.5" fill="none"><path d="M728,100 C735,90 742,84 750,78 M735,104 C742,94 748,88 754,84 M745,110 C750,100 753,95 755,92 M718,96 C722,88 726,84 731,80"/><path d="M705,118 C698,126 690,132 684,136 M712,122 C706,132 700,140 696,146 M724,128 C720,138 716,146 714,152 M698,112 C690,118 683,120 676,122"/><path d="M690,104 C684,108 678,110 672,111"/></g>
<g filter="url(#blur1)">
<path d="M680.4,93 C686,90 691,90 696,90.4 C702,91 708,93 713.4,94.7 C719,97 725,99 730.8,101.7 C736,104 740,107 744.7,110.4 C748,113 752,115 755,117.3 L755,150.3 C750,146 744,140 736,133 C730,130 724,127 718.6,124.3 C712,121 706,119 701.3,115.6 C696,112 691,109 687.4,105.2 C684,101 681,97 680.4,93 Z" fill="url(#fox)"/>
</g>
<g><path d="M731.4,123.6 L738.8,131.1" stroke="#f0e0bc" stroke-width="0.6" opacity="0.6"/><path d="M747.1,134.1 L752.7,137.7" stroke="#a87c48" stroke-width="0.6" opacity="0.6"/><path d="M692.5,97.0 L698.2,100.6" stroke="#a87c48" stroke-width="0.6" opacity="0.6"/><path d="M684.7,92.5 L690.3,96.7" stroke="#9a7040" stroke-width="0.6" opacity="0.6"/><path d="M697.5,103.2 L702.5,106.5" stroke="#a87c48" stroke-width="0.6" opacity="0.6"/><path d="M696.3,104.5 L700.4,107.5" stroke="#a87c48" stroke-width="0.6" opacity="0.6"/><path d="M743.5,119.0 L752.3,126.8" stroke="#a87c48" stroke-width="0.6" opacity="0.6"/><path d="M700.1,106.9 L705.0,111.0" stroke="#9a7040" stroke-width="0.6" opacity="0.6"/><path d="M704.7,100.2 L710.2,103.0" stroke="#f0e0bc" stroke-width="0.6" opacity="0.6"/><path d="M710.5,111.4 L717.9,116.6" stroke="#e2c89a" stroke-width="0.6" opacity="0.6"/><path d="M688.8,94.6 L694.7,98.6" stroke="#a87c48" stroke-width="0.6" opacity="0.6"/><path d="M720.6,115.6 L724.5,119.4" stroke="#f0e0bc" stroke-width="0.6" opacity="0.6"/><path d="M749.7,124.8 L755.5,130.1" stroke="#9a7040" stroke-width="0.6" opacity="0.6"/><path d="M711.1,107.3 L715.6,109.6" stroke="#a87c48" stroke-width="0.6" opacity="0.6"/><path d="M734.0,130.8 L738.8,134.0" stroke="#9a7040" stroke-width="0.6" opacity="0.6"/><path d="M707.7,101.4 L714.5,106.8" stroke="#f0e0bc" stroke-width="0.6" opacity="0.6"/><path d="M729.4,123.4 L735.7,127.6" stroke="#9a7040" stroke-width="0.6" opacity="0.6"/><path d="M746.3,115.6 L751.6,120.7" stroke="#a87c48" stroke-width="0.6" opacity="0.6"/><path d="M712.0,114.2 L719.5,118.7" stroke="#e2c89a" stroke-width="0.6" opacity="0.6"/><path d="M708.4,109.7 L715.9,115.4" stroke="#e2c89a" stroke-width="0.6" opacity="0.6"/><path d="M750.7,120.3 L754.1,124.5" stroke="#9a7040" stroke-width="0.6" opacity="0.6"/><path d="M687.7,97.7 L694.4,100.9" stroke="#9a7040" stroke-width="0.6" opacity="0.6"/><path d="M697.4,105.3 L705.0,110.9" stroke="#e2c89a" stroke-width="0.6" opacity="0.6"/><path d="M739.2,112.0 L746.0,119.6" stroke="#9a7040" stroke-width="0.6" opacity="0.6"/><path d="M691.9,96.4 L696.7,100.0" stroke="#e2c89a" stroke-width="0.6" opacity="0.6"/><path d="M696.7,104.2 L705.2,108.3" stroke="#9a7040" stroke-width="0.6" opacity="0.6"/><path d="M754.4,136.6 L760.1,141.1" stroke="#9a7040" stroke-width="0.6" opacity="0.6"/><path d="M709.9,97.8 L715.5,103.1" stroke="#a87c48" stroke-width="0.6" opacity="0.6"/><path d="M728.8,115.5 L735.1,119.3" stroke="#e2c89a" stroke-width="0.6" opacity="0.6"/><path d="M721.4,112.5 L728.9,116.6" stroke="#e2c89a" stroke-width="0.6" opacity="0.6"/><path d="M735.5,123.9 L743.8,130.0" stroke="#e2c89a" stroke-width="0.6" opacity="0.6"/><path d="M740.6,116.5 L749.1,124.8" stroke="#e2c89a" stroke-width="0.6" opacity="0.6"/><path d="M731.3,119.2 L735.3,122.4" stroke="#e2c89a" stroke-width="0.6" opacity="0.6"/><path d="M705.9,99.1 L711.7,103.0" stroke="#e2c89a" stroke-width="0.6" opacity="0.6"/><path d="M710.3,108.1 L718.1,114.6" stroke="#e2c89a" stroke-width="0.6" opacity="0.6"/><path d="M745.6,117.3 L754.0,124.5" stroke="#e2c89a" stroke-width="0.6" opacity="0.6"/><path d="M752.2,130.6 L759.1,135.8" stroke="#e2c89a" stroke-width="0.6" opacity="0.6"/><path d="M750.3,128.3 L757.2,135.4" stroke="#9a7040" stroke-width="0.6" opacity="0.6"/><path d="M698.3,103.5 L705.8,108.6" stroke="#9a7040" stroke-width="0.6" opacity="0.6"/><path d="M706.4,104.4 L716.0,109.8" stroke="#f0e0bc" stroke-width="0.6" opacity="0.6"/><path d="M699.0,101.2 L707.3,105.4" stroke="#a87c48" stroke-width="0.6" opacity="0.6"/><path d="M723.6,100.1 L730.5,104.7" stroke="#f0e0bc" stroke-width="0.6" opacity="0.6"/><path d="M742.8,113.8 L751.6,121.5" stroke="#f0e0bc" stroke-width="0.6" opacity="0.6"/><path d="M712.6,103.4 L721.1,107.9" stroke="#a87c48" stroke-width="0.6" opacity="0.6"/><path d="M704.0,108.5 L708.3,111.1" stroke="#e2c89a" stroke-width="0.6" opacity="0.6"/><path d="M749.2,137.8 L756.5,144.4" stroke="#f0e0bc" stroke-width="0.6" opacity="0.6"/><path d="M721.2,106.1 L726.8,110.4" stroke="#e2c89a" stroke-width="0.6" opacity="0.6"/><path d="M755.9,140.9 L761.2,146.8" stroke="#e2c89a" stroke-width="0.6" opacity="0.6"/><path d="M714.2,99.5 L720.4,104.0" stroke="#a87c48" stroke-width="0.6" opacity="0.6"/><path d="M754.0,134.2 L758.9,139.9" stroke="#f0e0bc" stroke-width="0.6" opacity="0.6"/><path d="M710.1,101.8 L719.4,108.4" stroke="#e2c89a" stroke-width="0.6" opacity="0.6"/><path d="M733.6,128.9 L739.7,133.5" stroke="#a87c48" stroke-width="0.6" opacity="0.6"/><path d="M719.2,109.6 L727.4,115.2" stroke="#a87c48" stroke-width="0.6" opacity="0.6"/><path d="M723.8,106.2 L733.2,113.4" stroke="#9a7040" stroke-width="0.6" opacity="0.6"/><path d="M687.5,99.2 L693.2,103.5" stroke="#a87c48" stroke-width="0.6" opacity="0.6"/><path d="M714.5,98.8 L722.1,104.1" stroke="#e2c89a" stroke-width="0.6" opacity="0.6"/><path d="M686.2,92.0 L693.0,95.8" stroke="#e2c89a" stroke-width="0.6" opacity="0.6"/><path d="M701.6,100.8 L706.1,103.7" stroke="#a87c48" stroke-width="0.6" opacity="0.6"/><path d="M732.9,112.2 L738.6,118.4" stroke="#f0e0bc" stroke-width="0.6" opacity="0.6"/><path d="M684.7,91.8 L690.5,95.6" stroke="#e2c89a" stroke-width="0.6" opacity="0.6"/><path d="M730.5,103.8 L736.0,108.8" stroke="#a87c48" stroke-width="0.6" opacity="0.6"/><path d="M686.4,93.1 L693.0,98.0" stroke="#a87c48" stroke-width="0.6" opacity="0.6"/><path d="M686.6,97.5 L693.4,101.6" stroke="#9a7040" stroke-width="0.6" opacity="0.6"/><path d="M749.1,137.1 L755.1,142.9" stroke="#a87c48" stroke-width="0.6" opacity="0.6"/><path d="M747.5,126.1 L755.6,132.5" stroke="#f0e0bc" stroke-width="0.6" opacity="0.6"/><path d="M732.7,116.1 L737.8,120.9" stroke="#e2c89a" stroke-width="0.6" opacity="0.6"/><path d="M694.6,97.9 L702.2,102.5" stroke="#e2c89a" stroke-width="0.6" opacity="0.6"/><path d="M721.7,109.6 L729.4,113.9" stroke="#a87c48" stroke-width="0.6" opacity="0.6"/><path d="M700.6,93.9 L704.8,97.5" stroke="#e2c89a" stroke-width="0.6" opacity="0.6"/><path d="M741.2,135.8 L750.0,143.9" stroke="#f0e0bc" stroke-width="0.6" opacity="0.6"/></g>
<path d="M698.7,67.8 L725.6,76.5 L720.4,95.6 L693.5,87.8 Z" fill="#1c1c1c"/>
<path d="M709,72 L725.6,76.5 L720.4,95.6 L706,91 Z" fill="#242424"/>
</svg>
<ellipse cx="711" cy="141" rx="0.9" ry="2.3" fill="#dccba4"/>
<text x="672.6" y="153.8" font-size="7.6" text-anchor="start" fill="#111" stroke="#111" stroke-width="0.25" textLength="19" lengthAdjust="spacingAndGlyphs" >1 cm</text>
<rect x="676" y="158.7" width="14" height="2.9" fill="#000"/>
<path d="M47,215 L47,200 Q48,193 51.8,191.4 Q55.6,193 56.6,200 L56.6,215 Z" fill="#94c4f0"/>
<text x="65.7" y="214.7" font-size="15.5" text-anchor="start" fill="#2b2b2b" stroke="#2b2b2b" stroke-width="0.35" textLength="79.6" lengthAdjust="spacingAndGlyphs" >Ice growing</text>
<path d="M157.5,211 C162,208 168,207.5 174,208.5 C179,209.5 184,207.5 188,207 C186.5,211 182,213.5 176,213 C169,212.5 163,214 157.5,211 Z" fill="#f1b06b"/>
<text x="192.3" y="214.7" font-size="15.5" text-anchor="start" fill="#2b2b2b" stroke="#2b2b2b" stroke-width="0.35" textLength="48.7" lengthAdjust="spacingAndGlyphs" >MXene</text>
<path d="M258.8,213 C264,208 268,206.5 274,209.5 C280,213 286,215.5 292,212 C295,210 298,208.5 300,208" stroke="#5c9f88" stroke-width="1.3" fill="none"/>
<text x="312" y="216" font-size="15.5" text-anchor="start" fill="#2b2b2b" stroke="#2b2b2b" stroke-width="0.35" textLength="32.5" lengthAdjust="spacingAndGlyphs" >CNC</text>
<rect x="365" y="207" width="33" height="7" fill="#f5a070"/>
<text x="409.5" y="215.2" font-size="15.5" text-anchor="start" fill="#2b2b2b" stroke="#2b2b2b" stroke-width="0.35" textLength="104" lengthAdjust="spacingAndGlyphs" >Copper bottom</text>
<text x="634.3" y="202" font-size="16" text-anchor="middle" fill="#2b2b2b" stroke="#2b2b2b" stroke-width="0.35" textLength="175.4" lengthAdjust="spacingAndGlyphs" >Salting-out/MXene/CNC</text>
<text x="635.2" y="217.2" font-size="16" text-anchor="middle" fill="#2b2b2b" stroke="#2b2b2b" stroke-width="0.35" textLength="146" lengthAdjust="spacingAndGlyphs" >triboelectric aerogel</text>
<text x="12.5" y="254" font-size="19" text-anchor="start" fill="#2b2b2b" stroke="#2b2b2b" stroke-width="0.1" >c</text>
<rect x="32.5" y="242.5" width="217.5" height="167.5" fill="none" stroke="#444" stroke-width="0.9" stroke-dasharray="1,1.2"/>
<filter id="eds0" x="37.3" y="248" width="101.5" height="73.5" filterUnits="userSpaceOnUse" color-interpolation-filters="sRGB">
 <feTurbulence type="fractalNoise" baseFrequency="0.08" numOctaves="2" seed="21" result="w"/>
 <feDisplacementMap in="SourceGraphic" in2="w" scale="12" xChannelSelector="R" yChannelSelector="G" result="disp"/>
 <feGaussianBlur in="disp" stdDeviation="2" result="d"/>
 <feTurbulence type="fractalNoise" baseFrequency="0.18" numOctaves="2" seed="31" result="lf"/>
 <feColorMatrix in="lf" type="matrix" values="0 0 0 0 0 0 0 0 0 0 0 0 0 0 0 4.5 0 0 0 -1.7" result="lfa"/>
 <feTurbulence type="fractalNoise" baseFrequency="0.9" numOctaves="1" seed="5" result="hf"/>
 <feColorMatrix in="hf" type="matrix" values="0 0 0 0 0 0 0 0 0 0 0 0 0 0 0 2.2 0 0 0 -0.4" result="hfa"/>
 <feComposite in="d" in2="lfa" operator="arithmetic" k1="1" k2="0" k3="0" k4="0" result="d1"/>
 <feComposite in="d1" in2="hfa" operator="arithmetic" k1="0.75" k2="0" k3="0" k4="0" result="d2"/>
 <feComposite in="hfa" in2="d2" operator="arithmetic" k1="0" k2="0.04" k3="1" k4="0" result="t0"/>
 <feGaussianBlur in="t0" stdDeviation="0.5" result="t"/>
 <feFlood flood-color="#b01414" result="f"/>
 <feComposite in="f" in2="t" operator="in"/>
</filter>
<rect x="37.3" y="248" width="101.5" height="73.5" fill="#040404"/>
<g filter="url(#eds0)"><path d="M54.6,255.3 L65.7,255.3 L68.8,284.8 L69.8,327.4 L55.6,327.4 L52.5,292.1 L52.5,277.4 Z" fill="#000" fill-opacity="1.0"/><path d="M32.2,292.1 L47.4,295.8 L49.5,327.4 L32.2,327.4 Z" fill="#000" fill-opacity="0.36"/><path d="M70.8,242.1 L85.0,242.1 L84.0,271.5 L77.9,266.4 Z" fill="#000" fill-opacity="0.36"/><path d="M110.4,242.1 L123.6,242.1 L122.6,277.4 L121.5,292.1 L130.7,306.8 L132.7,327.4 L113.4,327.4 L109.4,288.4 L105.3,268.6 Z" fill="#000" fill-opacity="1.0"/><path d="M32.2,256.8 L47.4,256.8 L45.4,281.1 L32.2,284.8 Z" fill="#000" fill-opacity="0.21"/><path d="M124.6,242.1 L143.9,242.1 L132.7,262.7 Z" fill="#000" fill-opacity="0.3"/></g>
<text x="39.8" y="261" font-size="13" text-anchor="start" fill="#e6e6e6" stroke="#e6e6e6" stroke-width="0.35" >C</text>
<filter id="eds1" x="144" y="248" width="101.5" height="73.5" filterUnits="userSpaceOnUse" color-interpolation-filters="sRGB">
 <feTurbulence type="fractalNoise" baseFrequency="0.08" numOctaves="2" seed="22" result="w"/>
 <feDisplacementMap in="SourceGraphic" in2="w" scale="12" xChannelSelector="R" yChannelSelector="G" result="disp"/>
 <feGaussianBlur in="disp" stdDeviation="2" result="d"/>
 <feTurbulence type="fractalNoise" baseFrequency="0.18" numOctaves="2" seed="32" result="lf"/>
 <feColorMatrix in="lf" type="matrix" values="0 0 0 0 0 0 0 0 0 0 0 0 0 0 0 4.5 0 0 0 -1.7" result="lfa"/>
 <feTurbulence type="fractalNoise" baseFrequency="0.9" numOctaves="1" seed="6" result="hf"/>
 <feColorMatrix in="hf" type="matrix" values="0 0 0 0 0 0 0 0 0 0 0 0 0 0 0 2.2 0 0 0 -0.4" result="hfa"/>
 <feComposite in="d" in2="lfa" operator="arithmetic" k1="1" k2="0" k3="0" k4="0" result="d1"/>
 <feComposite in="d1" in2="hfa" operator="arithmetic" k1="0.8" k2="0" k3="0" k4="0" result="d2"/>
 <feComposite in="hfa" in2="d2" operator="arithmetic" k1="0" k2="0.04" k3="1" k4="0" result="t0"/>
 <feGaussianBlur in="t0" stdDeviation="0.5" result="t"/>
 <feFlood flood-color="#26b826" result="f"/>
 <feComposite in="f" in2="t" operator="in"/>
</filter>
<rect x="144" y="248" width="101.5" height="73.5" fill="#040404"/>
<g filter="url(#eds1)"><path d="M161.3,255.3 L172.4,255.3 L175.5,284.8 L176.5,327.4 L162.3,327.4 L159.2,292.1 L159.2,277.4 Z" fill="#000" fill-opacity="1.0"/><path d="M138.9,292.1 L154.2,295.8 L156.2,327.4 L138.9,327.4 Z" fill="#000" fill-opacity="0.36"/><path d="M177.5,242.1 L191.7,242.1 L190.7,271.5 L184.6,266.4 Z" fill="#000" fill-opacity="0.36"/><path d="M217.1,242.1 L230.3,242.1 L229.3,277.4 L228.2,292.1 L237.4,306.8 L239.4,327.4 L220.1,327.4 L216.1,288.4 L212.0,268.6 Z" fill="#000" fill-opacity="1.0"/><path d="M138.9,256.8 L154.2,256.8 L152.1,281.1 L138.9,284.8 Z" fill="#000" fill-opacity="0.21"/><path d="M231.3,242.1 L250.6,242.1 L239.4,262.7 Z" fill="#000" fill-opacity="0.3"/></g>
<text x="146.5" y="261" font-size="13" text-anchor="start" fill="#e6e6e6" stroke="#e6e6e6" stroke-width="0.35" >O</text>
<filter id="eds2" x="37.3" y="336" width="101.5" height="73.5" filterUnits="userSpaceOnUse" color-interpolation-filters="sRGB">
 <feTurbulence type="fractalNoise" baseFrequency="0.08" numOctaves="2" seed="23" result="w"/>
 <feDisplacementMap in="SourceGraphic" in2="w" scale="12" xChannelSelector="R" yChannelSelector="G" result="disp"/>
 <feGaussianBlur in="disp" stdDeviation="2" result="d"/>
 <feTurbulence type="fractalNoise" baseFrequency="0.18" numOctaves="2" seed="33" result="lf"/>
 <feColorMatrix in="lf" type="matrix" values="0 0 0 0 0 0 0 0 0 0 0 0 0 0 0 4.5 0 0 0 -1.7" result="lfa"/>
 <feTurbulence type="fractalNoise" baseFrequency="0.9" numOctaves="1" seed="7" result="hf"/>
 <feColorMatrix in="hf" type="matrix" values="0 0 0 0 0 0 0 0 0 0 0 0 0 0 0 2.2 0 0 0 -0.4" result="hfa"/>
 <feComposite in="d" in2="lfa" operator="arithmetic" k1="1" k2="0" k3="0" k4="0" result="d1"/>
 <feComposite in="d1" in2="hfa" operator="arithmetic" k1="0.5" k2="0" k3="0" k4="0" result="d2"/>
 <feComposite in="hfa" in2="d2" operator="arithmetic" k1="0" k2="0.07" k3="1" k4="0" result="t0"/>
 <feGaussianBlur in="t0" stdDeviation="0.5" result="t"/>
 <feFlood flood-color="#969020" result="f"/>
 <feComposite in="f" in2="t" operator="in"/>
</filter>
<rect x="37.3" y="336" width="101.5" height="73.5" fill="#040404"/>
<g filter="url(#eds2)"><path d="M54.6,343.4 L65.7,343.4 L68.8,372.8 L69.8,415.4 L55.6,415.4 L52.5,380.1 L52.5,365.4 Z" fill="#000" fill-opacity="1.0"/><path d="M32.2,380.1 L47.4,383.8 L49.5,415.4 L32.2,415.4 Z" fill="#000" fill-opacity="0.36"/><path d="M70.8,330.1 L85.0,330.1 L84.0,359.5 L77.9,354.4 Z" fill="#000" fill-opacity="0.36"/><path d="M110.4,330.1 L123.6,330.1 L122.6,365.4 L121.5,380.1 L130.7,394.8 L132.7,415.4 L113.4,415.4 L109.4,376.4 L105.3,356.6 Z" fill="#000" fill-opacity="1.0"/><path d="M32.2,344.8 L47.4,344.8 L45.4,369.1 L32.2,372.8 Z" fill="#000" fill-opacity="0.21"/><path d="M124.6,330.1 L143.9,330.1 L132.7,350.7 Z" fill="#000" fill-opacity="0.3"/><path d="M88.0,336.0 L110.4,336.0 L108.3,409.5 L88.0,409.5 Z" fill="#000" fill-opacity="0.5"/><path d="M37.3,336.0 L52.5,336.0 L52.5,409.5 L37.3,409.5 Z" fill="#000" fill-opacity="0.4"/></g>
<text x="39.8" y="349" font-size="13" text-anchor="start" fill="#e6e6e6" stroke="#e6e6e6" stroke-width="0.35" >Ti</text>
<filter id="eds3" x="144" y="336" width="101.5" height="73.5" filterUnits="userSpaceOnUse" color-interpolation-filters="sRGB">
 <feTurbulence type="fractalNoise" baseFrequency="0.08" numOctaves="2" seed="24" result="w"/>
 <feDisplacementMap in="SourceGraphic" in2="w" scale="12" xChannelSelector="R" yChannelSelector="G" result="disp"/>
 <feGaussianBlur in="disp" stdDeviation="2" result="d"/>
 <feTurbulence type="fractalNoise" baseFrequency="0.18" numOctaves="2" seed="34" result="lf"/>
 <feColorMatrix in="lf" type="matrix" values="0 0 0 0 0 0 0 0 0 0 0 0 0 0 0 4.5 0 0 0 -1.7" result="lfa"/>
 <feTurbulence type="fractalNoise" baseFrequency="0.9" numOctaves="1" seed="8" result="hf"/>
 <feColorMatrix in="hf" type="matrix" values="0 0 0 0 0 0 0 0 0 0 0 0 0 0 0 2.2 0 0 0 -0.4" result="hfa"/>
 <feComposite in="d" in2="lfa" operator="arithmetic" k1="1" k2="0" k3="0" k4="0" result="d1"/>
 <feComposite in="d1" in2="hfa" operator="arithmetic" k1="0.34" k2="0" k3="0" k4="0" result="d2"/>
 <feComposite in="hfa" in2="d2" operator="arithmetic" k1="0" k2="0.02" k3="1" k4="0" result="t0"/>
 <feGaussianBlur in="t0" stdDeviation="0.5" result="t"/>
 <feFlood flood-color="#5a2258" result="f"/>
 <feComposite in="f" in2="t" operator="in"/>
</filter>
<rect x="144" y="336" width="101.5" height="73.5" fill="#040404"/>
<g filter="url(#eds3)"><path d="M161.3,343.4 L172.4,343.4 L175.5,372.8 L176.5,415.4 L162.3,415.4 L159.2,380.1 L159.2,365.4 Z" fill="#000" fill-opacity="1.0"/><path d="M138.9,380.1 L154.2,383.8 L156.2,415.4 L138.9,415.4 Z" fill="#000" fill-opacity="0.3"/><path d="M177.5,330.1 L191.7,330.1 L190.7,359.5 L184.6,354.4 Z" fill="#000" fill-opacity="0.3"/><path d="M217.1,330.1 L230.3,330.1 L229.3,365.4 L228.2,380.1 L237.4,394.8 L239.4,415.4 L220.1,415.4 L216.1,376.4 L212.0,356.6 Z" fill="#000" fill-opacity="1.0"/><path d="M138.9,344.8 L154.2,344.8 L152.1,369.1 L138.9,372.8 Z" fill="#000" fill-opacity="0.175"/><path d="M231.3,330.1 L250.6,330.1 L239.4,350.7 Z" fill="#000" fill-opacity="0.25"/></g>
<text x="146.5" y="349" font-size="13" text-anchor="start" fill="#e6e6e6" stroke="#e6e6e6" stroke-width="0.35" >F</text>
<text x="262.5" y="254" font-size="19" text-anchor="start" fill="#2b2b2b" stroke="#2b2b2b" stroke-width="0.1" >d</text>
<rect x="279.5" y="242.5" width="226" height="167.5" fill="none" stroke="#444" stroke-width="0.9" stroke-dasharray="1,1.2"/>
<svg x="288.7" y="250.4" width="103.5" height="146.3" viewBox="288.7 250.4 103.5 146.3" overflow="hidden">
<rect x="288.7" y="250.4" width="103.5" height="146.3" fill="#a8a8a8"/>
<g filter="url(#blur1)">
<path d="M320,248 L362,248 C360,258 356,262 352,268 C345,268 336,262 326,266 C322,262 320,256 320,248 Z" fill="#d4d4d4"/>
<path d="M323,268 C330,264 338,263 345,264 C349,268 350,274 348,280 C344,285 338,288 333,289 C328,287 324,282 323,276 Z" fill="#505050"/>
<path d="M335,262 C342,260 349,263 350,272 C350,279 346,283 340,283 C336,280 334,270 335,262 Z" fill="#353535"/>
<path d="M330,288 C336,284 346,284 349,292 C350,300 347,308 340,311 C334,312 329,306 329,298 Z" fill="#3a3a3a"/>
<path d="M318,302 C324,298 332,300 334,306 C334,312 328,316 320,315 C316,312 316,306 318,302 Z" fill="#454545"/>
<path d="M364,248 L394,248 L394,276 C386,280 378,278 372,272 C367,264 364,256 364,248 Z" fill="#424242"/>
<path d="M356,250 C362,252 366,258 364,268 C360,276 356,282 352,288 C350,280 352,262 356,250 Z" fill="#c4c4c4"/>
<path d="M362,266 C366,270 364,280 358,290 C352,300 344,310 336,320 C332,315 334,308 340,300 C346,290 352,278 356,270 Z" fill="#d2d2d2"/>
<path d="M362,268 C368,272 374,282 372,296 C368,300 364,298 362,290 Z" fill="#b4b4b4"/>
<path d="M322,320 C330,316 346,318 349,324 C350,334 346,344 338,350 C330,352 324,346 322,338 Z" fill="#474747"/>
<path d="M325,328 C330,324 336,326 336,334 C336,342 332,349 328,348 C324,344 323,334 325,328 Z" fill="#333"/>
<path d="M356,329 C362,328 368,334 368,342 C366,350 360,352 356,348 C353,342 353,334 356,329 Z" fill="#404040"/>
<path d="M372,283 C380,282 388,284 394,284 L394,397 L364,397 C364,385 362,372 364,358 C366,345 370,335 368,320 C367,305 370,295 372,283 Z" fill="#d6d6d6"/>
<path d="M304,358 C310,350 322,350 330,354 C334,362 336,380 336,397 L303,397 C302,385 302,368 304,358 Z" fill="#6c6c6c"/>
<path d="M300,345 C308,340 316,344 322,346 C330,350 334,354 338,356 C334,352 326,350 318,352 C310,354 306,360 304,370 C302,362 300,354 300,345 Z" fill="#d8d8d8"/>
<path d="M287,248 L321,248 C320,262 320,276 318,288 C315,300 312,312 308,322 C304,332 300,342 298,352 C296,366 296,380 294,397 L287,397 Z" fill="#d4d4d4"/>
<path d="M287,382 L296,386 L300,397 L287,397 Z" fill="#2c2c2c"/>
</g>
<path d="M301,270 C303,268 306,270 305,272 C303,273 301,272 301,270 Z M307,267 C309,266 311,268 310,270 C308,271 306,269 307,267 Z M310,274 C312,273 315,276 314,279 C312,279 310,277 310,274 Z" fill="#222"/>
</svg>
<rect x="302.6" y="330.6" width="43.6" height="41.6" fill="none" stroke="#d36a6a" stroke-width="0.7"/>
<text x="290" y="385.7" font-size="13" text-anchor="start" fill="#111" stroke="#111" stroke-width="0.35" textLength="37.8" lengthAdjust="spacingAndGlyphs" >30 μm</text>
<rect x="294.3" y="390.6" width="29.4" height="2.6" fill="#000"/>
<svg x="404.7" y="250.4" width="90.5" height="146.3" viewBox="404.7 250.4 90.5 146.3" overflow="hidden">
<rect x="404.7" y="250.4" width="90.5" height="146.3" fill="#c2c2c2"/>
<linearGradient id="semL" x1="0" y1="0" x2="1" y2="0"><stop offset="0" stop-color="#b4b4b4"/><stop offset="1" stop-color="#cacaca"/></linearGradient>
<g filter="url(#blur1)">
<path d="M403,248 L419,248 L419,300 C414,310 408,318 403,322 Z" fill="url(#semL)"/>
<path d="M419,248 L429,248 C428,270 428,290 426,305 C423,308 420,306 419,300 Z" fill="#dedede"/>
<path d="M429,248 L446,248 C446,270 446,292 448,310 C440,314 432,316 426,318 C428,296 430,270 429,248 Z" fill="#bdbdbd"/>
<path d="M445.7,248 L497,248 L497,296 C490,308 480,316 470,318 C460,320 452,318 450,310 C447,290 446,270 445.7,248 Z" fill="#5a5a5a"/>
<path d="M468,260 C474,258 480,260 481,268 L481,282 C476,285 470,284 467,280 Z M461,285 C466,282 474,282 476,290 C477,298 472,302 464,301 C460,296 459,290 461,285 Z M458,303 C464,300 470,302 471,308 C471,314 466,318 460,317 C456,314 456,308 458,303 Z" fill="#3b3b3b"/>
<path d="M403,346 C412,338 424,332 433.5,329.3 C438,328 441,328 443.3,328.1 C450,330 454,332 458,334.2 C464,340 466,342 469,346.4 C474,354 476,358 478.7,362.3 L478.7,398 L403,398 Z" fill="#6e6e6e"/>
<path d="M478.7,362 C484,350 490,340 497,330 L497,398 L478.7,398 Z" fill="#c8c8c8"/>
<path d="M403,322 C412,316 420,312 430,316 L403,346 Z" fill="#cdcdcd"/>
</g>
</svg>
<text x="405.2" y="385.7" font-size="13" text-anchor="start" fill="#111" stroke="#111" stroke-width="0.35" textLength="37.4" lengthAdjust="spacingAndGlyphs" >10 μm</text>
<rect x="413.7" y="390.6" width="24.5" height="2.6" fill="#000"/>
<path d="M346.2,330.6 L404.7,250.4 M346.2,372.2 L404.7,396.7" stroke="#333" stroke-width="0.8" stroke-dasharray="1.2,1.2" fill="none"/>
<text x="512" y="254.0" font-size="19" text-anchor="start" fill="#2b2b2b" stroke="#2b2b2b" stroke-width="0.1" >e</text>
<rect x="557.7" y="246" width="194.79999999999995" height="155.3" fill="none" stroke="#3a3a3a" stroke-width="1"/>
<path d="M554.7,401.3 L557.7,401.3" stroke="#3a3a3a" stroke-width="1"/>
<text x="553.2" y="405.1" font-size="10.5" text-anchor="end" fill="#2b2b2b" stroke="#2b2b2b" stroke-width="0.25" >0</text>
<path d="M554.7,339.2 L557.7,339.2" stroke="#3a3a3a" stroke-width="1"/>
<text x="553.2" y="342.98" font-size="10.5" text-anchor="end" fill="#2b2b2b" stroke="#2b2b2b" stroke-width="0.25" >20</text>
<path d="M554.7,277.1 L557.7,277.1" stroke="#3a3a3a" stroke-width="1"/>
<text x="553.2" y="280.86" font-size="10.5" text-anchor="end" fill="#2b2b2b" stroke="#2b2b2b" stroke-width="0.25" >40</text>
<path d="M555.7,370.2 L557.7,370.2" stroke="#3a3a3a" stroke-width="1"/>
<path d="M555.7,308.1 L557.7,308.1" stroke="#3a3a3a" stroke-width="1"/>
<path d="M555.7,246.0 L557.7,246.0" stroke="#3a3a3a" stroke-width="1"/>
<rect x="575.2" y="314.0" width="31.59999999999991" height="87.3" fill="url(#barK)"/>
<path d="M591.0,309.1 L591.0,319.0 M589.0,309.1 L593.0,309.1 M589.0,319.0 L593.0,319.0" stroke="#222" stroke-width="0.8"/>
<path d="M591.0,401.3 L591.0,404.3" stroke="#3a3a3a" stroke-width="1"/>
<rect x="639.3" y="321.2" width="32.10000000000002" height="80.1" fill="url(#barR)"/>
<path d="M655.3499999999999,318.4 L655.3499999999999,324.0 M653.3499999999999,318.4 L657.3499999999999,318.4 M653.3499999999999,324.0 L657.3499999999999,324.0" stroke="#222" stroke-width="0.8"/>
<path d="M655.3499999999999,401.3 L655.3499999999999,404.3" stroke="#3a3a3a" stroke-width="1"/>
<rect x="703.5" y="325.8" width="32.10000000000002" height="75.5" fill="url(#barB)"/>
<path d="M719.55,322.4 L719.55,329.2 M717.55,322.4 L721.55,322.4 M717.55,329.2 L721.55,329.2" stroke="#222" stroke-width="0.8"/>
<path d="M719.55,401.3 L719.55,404.3" stroke="#3a3a3a" stroke-width="1"/>
<rect x="564.8" y="257" width="10.5" height="3.6" fill="#2cb6ee"/>
<text x="578.4" y="263" font-size="11" text-anchor="start" fill="#2b2b2b" stroke="#2b2b2b" stroke-width="0.25" textLength="164" lengthAdjust="spacingAndGlyphs" >Salting-out/MXene/CNC aerogel</text>
<rect x="564.8" y="272.7" width="10.5" height="3.6" fill="#e8456b"/>
<text x="578.4" y="278.7" font-size="11" text-anchor="start" fill="#2b2b2b" stroke="#2b2b2b" stroke-width="0.25" textLength="97" lengthAdjust="spacingAndGlyphs" >MXene/CNC aerogel</text>
<rect x="564.8" y="287.8" width="10.5" height="3.6" fill="#111111"/>
<text x="578.4" y="293.8" font-size="11" text-anchor="start" fill="#2b2b2b" stroke="#2b2b2b" stroke-width="0.25" textLength="64" lengthAdjust="spacingAndGlyphs" >CNC aerogel</text>
<text x="655.1" y="424" font-size="10.5" text-anchor="middle" fill="#2b2b2b" stroke="#2b2b2b" stroke-width="0.25" textLength="41" lengthAdjust="spacingAndGlyphs" >Aerogels</text>
<g transform="translate(536.5,323) rotate(-90)"><text x="0" y="0" font-size="10.5" text-anchor="middle" fill="#2b2b2b" stroke="#2b2b2b" stroke-width="0.25" textLength="132" lengthAdjust="spacingAndGlyphs" >Average pore diameter (μm)</text></g>
<text x="265" y="455.5" font-size="19" text-anchor="start" fill="#2b2b2b" stroke="#2b2b2b" stroke-width="0.1" >g</text>
<rect x="300" y="439.2" width="193.7" height="156.40000000000003" fill="none" stroke="#3a3a3a" stroke-width="1"/>
<path d="M297,595.6 L300,595.6" stroke="#3a3a3a" stroke-width="1"/>
<text x="295.5" y="599.4" font-size="10.5" text-anchor="end" fill="#2b2b2b" stroke="#2b2b2b" stroke-width="0.25" >0</text>
<path d="M297,539.0 L300,539.0" stroke="#3a3a3a" stroke-width="1"/>
<text x="295.5" y="542.7846153846153" font-size="10.5" text-anchor="end" fill="#2b2b2b" stroke="#2b2b2b" stroke-width="0.25" >40</text>
<path d="M297,482.4 L300,482.4" stroke="#3a3a3a" stroke-width="1"/>
<text x="295.5" y="486.16923076923075" font-size="10.5" text-anchor="end" fill="#2b2b2b" stroke="#2b2b2b" stroke-width="0.25" >80</text>
<path d="M298,567.3 L300,567.3" stroke="#3a3a3a" stroke-width="1"/>
<path d="M298,510.7 L300,510.7" stroke="#3a3a3a" stroke-width="1"/>
<path d="M298,454.1 L300,454.1" stroke="#3a3a3a" stroke-width="1"/>
<rect x="325.2" y="586.4" width="28.80000000000001" height="9.2" fill="url(#barKg)"/>
<path d="M339.6,585.8 L339.6,587.0 M337.6,585.8 L341.6,585.8 M337.6,587.0 L341.6,587.0" stroke="#222" stroke-width="0.8"/>
<path d="M339.6,595.6 L339.6,598.6" stroke="#3a3a3a" stroke-width="1"/>
<rect x="382.3" y="571.0" width="28.399999999999977" height="24.6" fill="url(#barRg)"/>
<path d="M396.5,569.3 L396.5,572.7 M394.5,569.3 L398.5,569.3 M394.5,572.7 L398.5,572.7" stroke="#222" stroke-width="0.8"/>
<path d="M396.5,595.6 L396.5,598.6" stroke="#3a3a3a" stroke-width="1"/>
<rect x="439" y="493.3" width="28.399999999999977" height="102.3" fill="url(#barBg)"/>
<path d="M453.2,491.0 L453.2,495.5 M451.2,491.0 L455.2,491.0 M451.2,495.5 L455.2,495.5" stroke="#222" stroke-width="0.8"/>
<path d="M453.2,595.6 L453.2,598.6" stroke="#3a3a3a" stroke-width="1"/>
<rect x="310" y="458.5" width="10.5" height="3.6" fill="#2cb6ee"/>
<text x="323.6" y="464.5" font-size="11" text-anchor="start" fill="#2b2b2b" stroke="#2b2b2b" stroke-width="0.25" textLength="164" lengthAdjust="spacingAndGlyphs" >Salting-out/MXene/CNC aerogel</text>
<rect x="310" y="473.7" width="10.5" height="3.6" fill="#e8456b"/>
<text x="323.6" y="479.7" font-size="11" text-anchor="start" fill="#2b2b2b" stroke="#2b2b2b" stroke-width="0.25" textLength="97" lengthAdjust="spacingAndGlyphs" >MXene/CNC aerogel</text>
<rect x="310" y="489" width="10.5" height="3.6" fill="#111111"/>
<text x="323.6" y="495" font-size="11" text-anchor="start" fill="#2b2b2b" stroke="#2b2b2b" stroke-width="0.25" textLength="64" lengthAdjust="spacingAndGlyphs" >CNC aerogel</text>
<text x="396.85" y="617" font-size="10.5" text-anchor="middle" fill="#2b2b2b" stroke="#2b2b2b" stroke-width="0.25" textLength="41" lengthAdjust="spacingAndGlyphs" >Aerogels</text>
<g transform="translate(278.5,518) rotate(-90)"><text x="0" y="0" font-size="10.5" text-anchor="middle" fill="#2b2b2b" stroke="#2b2b2b" stroke-width="0.25" textLength="101" lengthAdjust="spacingAndGlyphs" >Young’s moduli (MPa)</text></g>
<text x="513.4" y="452.5" font-size="19" text-anchor="start" fill="#2b2b2b" stroke="#2b2b2b" stroke-width="0.1" >h</text>
<rect x="559" y="439.2" width="193" height="156.40000000000003" fill="none" stroke="#3a3a3a" stroke-width="1"/>
<path d="M556,595.6 L559,595.6" stroke="#3a3a3a" stroke-width="1"/>
<text x="554.5" y="599.4" font-size="10.5" text-anchor="end" fill="#2b2b2b" stroke="#2b2b2b" stroke-width="0.25" >0</text>
<path d="M556,542.0 L559,542.0" stroke="#3a3a3a" stroke-width="1"/>
<text x="554.5" y="545.8383561643835" font-size="10.5" text-anchor="end" fill="#2b2b2b" stroke="#2b2b2b" stroke-width="0.25" >150</text>
<path d="M556,488.5 L559,488.5" stroke="#3a3a3a" stroke-width="1"/>
<text x="554.5" y="492.27671232876713" font-size="10.5" text-anchor="end" fill="#2b2b2b" stroke="#2b2b2b" stroke-width="0.25" >300</text>
<path d="M557,568.8 L559,568.8" stroke="#3a3a3a" stroke-width="1"/>
<path d="M557,515.3 L559,515.3" stroke="#3a3a3a" stroke-width="1"/>
<path d="M557,461.7 L559,461.7" stroke="#3a3a3a" stroke-width="1"/>
<rect x="584.3" y="560.2" width="28.700000000000045" height="35.4" fill="url(#barK)"/>
<path d="M598.65,559.2 L598.65,561.3 M596.65,559.2 L600.65,559.2 M596.65,561.3 L600.65,561.3" stroke="#222" stroke-width="0.8"/>
<path d="M598.65,595.6 L598.65,598.6" stroke="#3a3a3a" stroke-width="1"/>
<rect x="641" y="556.7" width="28.700000000000045" height="38.9" fill="url(#barR)"/>
<path d="M655.35,555.6 L655.35,557.7 M653.35,555.6 L657.35,555.6 M653.35,557.7 L657.35,557.7" stroke="#222" stroke-width="0.8"/>
<path d="M655.35,595.6 L655.35,598.6" stroke="#3a3a3a" stroke-width="1"/>
<rect x="698" y="473.5" width="28.5" height="122.1" fill="url(#barB)"/>
<path d="M712.25,471.7 L712.25,475.3 M710.25,471.7 L714.25,471.7 M710.25,475.3 L714.25,475.3" stroke="#222" stroke-width="0.8"/>
<path d="M712.25,595.6 L712.25,598.6" stroke="#3a3a3a" stroke-width="1"/>
<rect x="565" y="459.5" width="10.5" height="3.6" fill="#2cb6ee"/>
<text x="578.6" y="465.5" font-size="11" text-anchor="start" fill="#2b2b2b" stroke="#2b2b2b" stroke-width="0.25" textLength="164" lengthAdjust="spacingAndGlyphs" >Salting-out/MXene/CNC aerogel</text>
<rect x="565" y="475.4" width="10.5" height="3.6" fill="#e8456b"/>
<text x="578.6" y="481.4" font-size="11" text-anchor="start" fill="#2b2b2b" stroke="#2b2b2b" stroke-width="0.25" textLength="97" lengthAdjust="spacingAndGlyphs" >MXene/CNC aerogel</text>
<rect x="565" y="490" width="10.5" height="3.6" fill="#111111"/>
<text x="578.6" y="496" font-size="11" text-anchor="start" fill="#2b2b2b" stroke="#2b2b2b" stroke-width="0.25" textLength="64" lengthAdjust="spacingAndGlyphs" >CNC aerogel</text>
<text x="655.5" y="617" font-size="10.5" text-anchor="middle" fill="#2b2b2b" stroke="#2b2b2b" stroke-width="0.25" textLength="41" lengthAdjust="spacingAndGlyphs" >Aerogels</text>
<g transform="translate(533,518) rotate(-90)"><text x="0" y="0" font-size="10.5" text-anchor="middle" fill="#2b2b2b" stroke="#2b2b2b" stroke-width="0.25" textLength="125" lengthAdjust="spacingAndGlyphs" >Specific modulus (kN·m/kg)</text></g>
<text x="15" y="453" font-size="19" text-anchor="start" fill="#2b2b2b" stroke="#2b2b2b" stroke-width="0.1" >f</text>
<rect x="56.4" y="439.2" width="193.9" height="155.59999999999997" fill="none" stroke="#3a3a3a" stroke-width="1"/>
<path d="M53.4,575.8 L56.4,575.8" stroke="#3a3a3a" stroke-width="1"/>
<text x="51.4" y="579.8" font-size="11.5" text-anchor="end" fill="#2b2b2b" stroke="#2b2b2b" stroke-width="0.25" >0</text>
<path d="M53.4,536.4 L56.4,536.4" stroke="#3a3a3a" stroke-width="1"/>
<text x="51.4" y="540.4" font-size="11.5" text-anchor="end" fill="#2b2b2b" stroke="#2b2b2b" stroke-width="0.25" >1</text>
<path d="M53.4,497.0 L56.4,497.0" stroke="#3a3a3a" stroke-width="1"/>
<text x="51.4" y="500.99999999999994" font-size="11.5" text-anchor="end" fill="#2b2b2b" stroke="#2b2b2b" stroke-width="0.25" >2</text>
<path d="M53.4,457.6 L56.4,457.6" stroke="#3a3a3a" stroke-width="1"/>
<text x="51.4" y="461.59999999999997" font-size="11.5" text-anchor="end" fill="#2b2b2b" stroke="#2b2b2b" stroke-width="0.25" >3</text>
<path d="M54.4,556.1 L56.4,556.1" stroke="#3a3a3a" stroke-width="1"/>
<path d="M54.4,516.7 L56.4,516.7" stroke="#3a3a3a" stroke-width="1"/>
<path d="M54.4,477.3 L56.4,477.3" stroke="#3a3a3a" stroke-width="1"/>
<path d="M54.4,437.9 L56.4,437.9" stroke="#3a3a3a" stroke-width="1"/>
<path d="M54.4,595.5 L56.4,595.5" stroke="#3a3a3a" stroke-width="1"/>
<path d="M68.5,594.8 L68.5,597.8" stroke="#3a3a3a" stroke-width="1"/>
<text x="68.5" y="609.8" font-size="11.5" text-anchor="middle" fill="#2b2b2b" stroke="#2b2b2b" stroke-width="0.25" >0</text>
<path d="M117.1,594.8 L117.1,597.8" stroke="#3a3a3a" stroke-width="1"/>
<text x="117.1" y="609.8" font-size="11.5" text-anchor="middle" fill="#2b2b2b" stroke="#2b2b2b" stroke-width="0.25" >20</text>
<path d="M165.7,594.8 L165.7,597.8" stroke="#3a3a3a" stroke-width="1"/>
<text x="165.7" y="609.8" font-size="11.5" text-anchor="middle" fill="#2b2b2b" stroke="#2b2b2b" stroke-width="0.25" >40</text>
<path d="M214.3,594.8 L214.3,597.8" stroke="#3a3a3a" stroke-width="1"/>
<text x="214.3" y="609.8" font-size="11.5" text-anchor="middle" fill="#2b2b2b" stroke="#2b2b2b" stroke-width="0.25" >60</text>
<path d="M92.8,594.8 L92.8,596.8" stroke="#3a3a3a" stroke-width="1"/>
<path d="M141.4,594.8 L141.4,596.8" stroke="#3a3a3a" stroke-width="1"/>
<path d="M190.0,594.8 L190.0,596.8" stroke="#3a3a3a" stroke-width="1"/>
<path d="M238.6,594.8 L238.6,596.8" stroke="#3a3a3a" stroke-width="1"/>
<path d="M68.50,575.80 C69.72,575.60 72.83,575.21 75.79,574.62 C78.75,574.03 79.35,573.24 86.24,572.25 C93.12,571.27 104.14,569.89 117.10,568.71 C130.06,567.53 150.96,566.41 164.00,565.16 C177.04,563.91 187.53,562.54 195.35,561.22 C203.16,559.91 206.52,558.79 210.90,557.28 C215.27,555.77 218.19,554.26 221.59,552.16 C224.99,550.06 229.69,545.92 231.31,544.67" fill="none" stroke="#333333" stroke-width="1.4"/>
<path d="M68.50,576.19 C69.72,576.13 73.72,577.84 75.79,575.80 C77.86,573.76 79.15,567.92 80.89,563.98 C82.63,560.04 84.27,554.79 86.24,552.16 C88.21,549.53 89.58,548.81 92.70,548.22 C95.82,547.63 101.29,548.61 104.95,548.61 C108.61,548.61 112.24,548.81 114.67,548.22 C117.10,547.63 117.34,546.12 119.53,545.07 C121.72,544.02 125.12,542.44 127.79,541.92 C130.47,541.39 132.13,542.77 135.57,541.92 C139.01,541.06 144.56,538.30 148.45,536.79 C152.34,535.28 155.01,533.12 158.90,532.85 C162.78,532.59 167.44,534.36 171.78,535.22 C176.11,536.07 180.97,537.32 184.90,537.98 C188.83,538.63 192.47,539.29 195.35,539.16 C198.22,539.03 199.56,538.24 202.15,537.19 C204.74,536.14 207.94,534.50 210.90,532.85 C213.85,531.21 217.30,529.24 219.89,527.34 C222.48,525.43 224.30,523.86 226.45,521.43 C228.60,519.00 231.72,514.20 232.77,512.76" fill="none" stroke="#e0506e" stroke-width="1.4"/>
<path d="M68.50,576.59 C69.27,576.46 71.70,577.70 73.12,575.80 C74.53,573.90 75.71,569.56 77.00,565.16 C78.30,560.76 79.35,553.74 80.89,549.40 C82.43,545.07 84.27,541.85 86.24,539.16 C88.21,536.47 90.76,534.23 92.70,533.25 C94.65,532.26 95.86,532.99 97.90,533.25 C99.94,533.51 102.16,534.23 104.95,534.82 C107.74,535.41 111.31,536.53 114.67,536.79 C118.03,537.06 121.88,536.93 125.12,536.40 C128.36,535.87 131.07,534.63 134.11,533.64 C137.15,532.66 139.21,531.21 143.34,530.49 C147.47,529.77 154.77,529.77 158.90,529.31 C163.03,528.85 164.65,528.39 168.13,527.73 C171.61,527.08 175.26,526.48 179.79,525.37 C184.33,524.25 190.16,523.27 195.35,521.03 C200.53,518.80 206.16,515.45 210.90,511.97 C215.64,508.49 220.58,503.96 223.78,500.15 C226.98,496.34 228.23,492.73 230.09,489.12 C231.96,485.51 234.15,480.25 234.96,478.48" fill="none" stroke="#2fb0ea" stroke-width="1.4"/>
<rect x="62.5" y="455" width="10" height="4" fill="#2cb6ee"/>
<text x="75" y="461.3" font-size="11.5" text-anchor="start" fill="#2b2b2b" stroke="#2b2b2b" stroke-width="0.25" textLength="163" lengthAdjust="spacingAndGlyphs" >Salting-out/MXene/CNC aerogel</text>
<rect x="62.5" y="471" width="10" height="4" fill="#e8456b"/>
<text x="75" y="477.3" font-size="11.5" text-anchor="start" fill="#2b2b2b" stroke="#2b2b2b" stroke-width="0.25" textLength="102" lengthAdjust="spacingAndGlyphs" >MXene/CNC aerogel</text>
<rect x="62.5" y="486.5" width="10" height="4" fill="#111"/>
<text x="75" y="492.8" font-size="11.5" text-anchor="start" fill="#2b2b2b" stroke="#2b2b2b" stroke-width="0.25" textLength="64" lengthAdjust="spacingAndGlyphs" >CNC aerogel</text>
<text x="153.7" y="623.5" font-size="13.5" text-anchor="middle" fill="#2b2b2b" stroke="#2b2b2b" stroke-width="0.35" textLength="137" lengthAdjust="spacingAndGlyphs" >Compression strain (%)</text>
<g transform="translate(38.5,522) rotate(-90)"><text x="0" y="0" font-size="13.5" text-anchor="middle" fill="#2b2b2b" stroke="#2b2b2b" stroke-width="0.35" textLength="147" lengthAdjust="spacingAndGlyphs" >Compression stress (MPa)</text></g>
</svg></body></html>
